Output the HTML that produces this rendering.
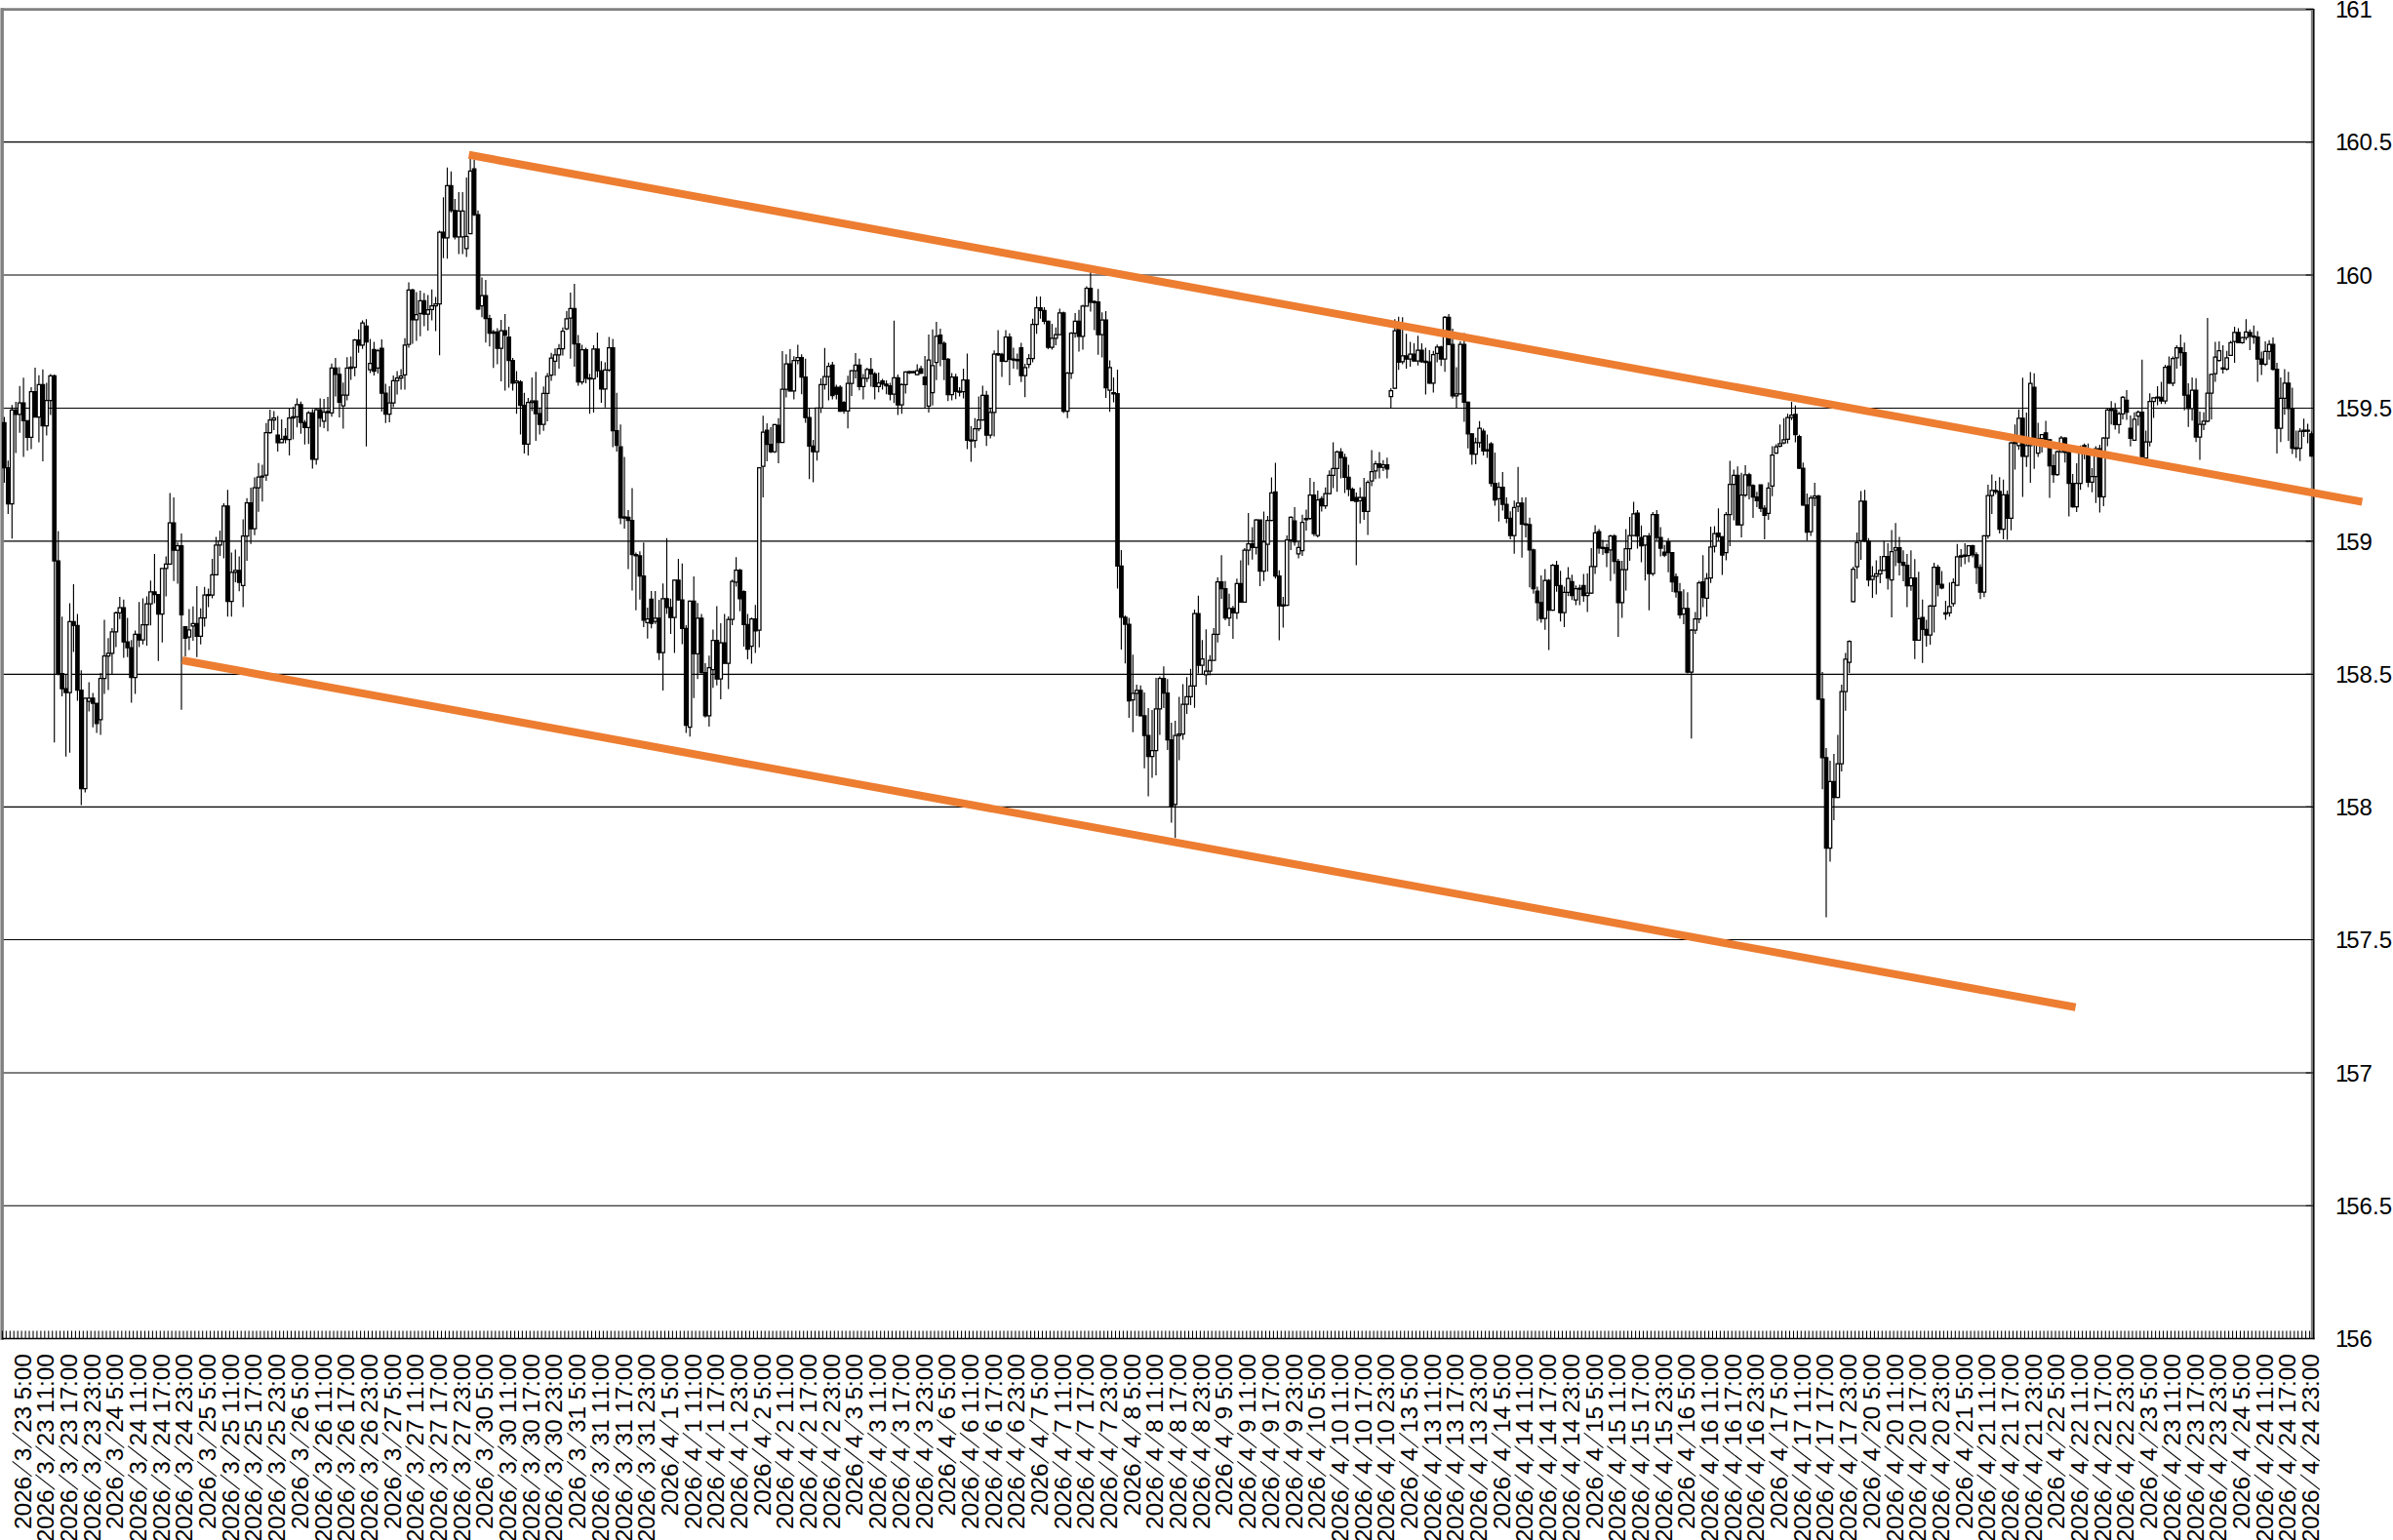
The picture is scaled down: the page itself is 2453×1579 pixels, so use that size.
<!DOCTYPE html><html><head><meta charset="utf-8"><title>chart</title><style>html,body{margin:0;padding:0;background:#fff}svg{display:block}text{font-family:"Liberation Sans",sans-serif;fill:#000}</style></head><body>
<svg width="2453" height="1579" viewBox="0 0 2453 1579">
<rect width="2453" height="1579" fill="#fff"/>
<path d="M2.4 145.60H2371M2.4 282.00H2371M2.4 418.45H2371M2.4 554.90H2371M2.4 691.40H2371M2.4 827.40H2371M2.4 963.45H2371M2.4 1100.00H2371M2.4 1236.25H2371" stroke="#000" stroke-width="1.15" fill="none"/>
<path d="M1 9.55H2370.2V1372" stroke="#808080" stroke-width="2.7" fill="none"/>
<path d="M2.15 8.2V1373.9" stroke="#808080" stroke-width="3.5" fill="none"/>
<path d="M4.4 427.5V495.1M8.3 472.3V526.9M12.3 415.2V552.2M16.2 411.9V464.5M20.2 395.7V443.8M24.1 387.3V468.4M28.1 431.4V461.9M32 397V460.6M36 376.9V427.5M39.9 384.7V453.5M43.9 378.8V473M47.8 392.5V446.4M51.8 383.4V425.6M55.7 384V761.3M59.7 544.5V692.6M63.6 632.2V714M67.6 691.3V775.7M71.5 618.6V771.8M75.4 599.1V668.6M79.4 629.6V718.6M83.3 687.3V825.6M87.3 715.8V812.6M91.2 699.6V729.5M95.2 710.6V745.7M99.1 721V751.6M103.1 689.9V753.5M107 635.5V711.4M111 654.3V707.5M114.9 643.9V691.9M118.9 627V663.4M122.8 612.1V634.8M126.8 614.7V674.4M130.7 633.5V673.8M134.7 656.2V720.5M138.6 646.5V711.4M142.6 617.3V663.4M146.5 613.4V660.8M150.5 611.4V662.1M154.4 595.2V641.3M158.4 567.9V618.6M162.3 609.5V677.7M166.3 582.9V658.8M170.2 570.5V611.4M174.2 505.6V578.3M178.1 510.1V595.8M182.1 556.2V598.4M186 547.1V727.7M190 642.6V673.1M193.9 624.4V666.6M197.9 621.8V656.9M201.8 601V673.8M205.7 623.8V660.8M209.7 601.7V642.6M213.6 603.6V622.5M217.6 573.1V613.4M221.5 550.4V589.4M225.5 543.9V569.9M229.4 516V572.5M233.4 502.3V632.2M237.3 566.6V632.2M241.3 563.4V597.1M245.2 570.5V606.2M249.2 532.5V622.5M253.1 510.8V575.1M257.1 500V557.8M261 489.6V548.7M265 474.7V524.7M268.9 476.6V514.3M272.9 433.8V492.9M276.8 420.1V444.8M280.8 421.4V440.9M284.7 426.6V463M288.7 429.9V453.9M292.6 439V454.5M296.6 418.8V466.9M300.5 416.9V450.6M304.5 408.4V438.3M308.4 411.7V444.8M312.4 430.5V455.8M316.3 421.4V455.2M320.3 419.5V480.5M324.2 418.8V476.6M328.2 408.4V437.7M332.1 409.1V439M336 407.1V442.2M340 372.7V427.3M343.9 366.9V406.5M347.9 376.6V427.9M351.8 392.2V439.6M355.8 366.2V410.4M359.7 365.6V389.6M363.7 347.4V385.7M367.6 337.7V361.7M371.6 328.6V357.8M375.5 327.3V457.8M379.5 347.4V382.5M383.4 350.6V385.1M387.4 357.8V383.1M391.3 348.1V422.1M395.3 393.5V433.8M399.2 396.1V433.1M403.2 385.1V417.5M407.1 380.5V404.5M411.1 378.6V399.4M415 346.8V399.4M419 289.6V356.5M422.9 296.1V352.6M426.9 299.4V349.4M430.8 298.1V344.8M434.8 300.6V334.4M438.7 302.6V339M442.7 296.8V328.6M446.6 304.5V339.6M450.6 236.6V364.3M454.5 202.3V264.7M458.5 171.7V265.2M462.4 175.8V217.9M466.3 203.9V245.5M470.3 197.1V260.5M474.2 197.1V260.5M478.2 182.1V263.6M482.1 162.3V239.7M486.1 163.9V221.6M490 215.8V317.7M494 284.4V325.3M497.9 287V351.3M501.9 322.7V355.2M505.8 338.3V377.3M509.8 336.4V373.4M513.7 327.9V390.9M517.7 322.1V400.6M521.6 335.1V397.4M525.6 366.9V400.6M529.5 380.6V424.2M533.5 389.7V445.6M537.4 402.7V465.1M541.4 407.9V467M545.3 387.1V421.6M549.3 381.3V452.1M553.2 417.7V445.6M557.2 396.2V441.7M561.1 382.6V431.9M565.1 361.8V390.4M569 357.3V385.2M573 352.7V378.1M576.9 335.8V364.4M580.9 319V338.4M584.8 300.1V367.7M588.8 291V376.1M592.7 343.6V395.6M596.6 353.4V394.3M600.6 356.6V393M604.5 383.2V424.2M608.5 354V422.9M612.4 341V387.1M616.4 370.3V413.1M620.3 371.6V417.7M624.3 345.6V381.3M628.2 347.5V458.6M632.2 402.7V463.1M636.1 435.2V537.4M640.1 468.6V541.9M644 523.1V583.5M648 500.4V605.6M651.9 566.6V625.7M655.9 565.3V614.7M659.8 556.2V643M663.8 622.9V654.7M667.7 606V644.3M671.7 606V639.7M675.6 615.1V676.8M679.6 598.2V707.9M683.5 551.7V629.4M687.5 613.8V650.1M691.4 594.3V669.6M695.4 573.1V615.7M699.3 577.7V660.5M703.3 641V751.4M707.2 615.7V755.3M711.2 591V715.7M715.1 618.3V696.2M719.1 629.4V690.4M723 680V735.8M726.9 672.2V744.9M730.9 645.6V705.3M734.8 621.6V702.7M738.8 639.1V717M742.7 629.4V680.6M746.7 631.9V706.6M750.6 594.3V641M754.6 571.2V601.4M758.5 583.2V626.8M762.5 605.3V663.1M766.4 629.4V676.1M770.4 633.2V680.6M774.3 620.3V669.6M778.3 479.4V663.8M782.2 426.2V510M786.2 434V473M790.1 437.9V464.5M794.1 434.7V464.5M798 428.8V474.9M802 360V453.5M805.9 363.2V407.4M809.9 358.1V401.6M813.8 365.2V409.4M817.8 353.5V373.6M821.7 363.2V404.2M825.7 367.8V433.4M829.6 419.1V491.2M833.6 450.9V494.4M837.5 418.4V472.3M841.5 387.9V423.6M845.4 356.8V399.6M849.4 371.7V410.6M853.3 371V409.4M857.3 394.4V409.4M861.2 395.1V422.3M865.1 411.3V424.3M869.1 385.3V439.2M873 379.5V406.1M877 361.9V387.9M880.9 367.8V400.3M884.9 383.4V409.4M888.8 376.9V391.8M892.8 367.1V396.4M896.7 381.4V409.4M900.7 382.1V402.2M904.6 388.6V399.6M908.6 389.9V404.2M912.5 392.5V410.6M916.5 328.8V413.2M920.4 384V425.6M924.4 393.1V424.3M928.3 380.8V403.5M932.3 380.1V383.4M936.2 380.1V382.7M940.2 373.6V384.7M944.1 374.9V383.4M948.1 365.1V418.3M952 343V422.9M956 337.8V415.7M959.9 330V389.7M963.9 337.1V375.5M967.8 350.1V389.7M971.8 367V411.2M975.7 382.6V410.5M979.7 383.2V409.2M983.6 396.9V406.6M987.6 378.1V408.6M991.5 362.5V460.5M995.4 437.1V473.5M999.4 428.7V459.2M1003.3 406.6V442.3M1007.3 395.6V431.3M1011.2 400.8V457.3M1015.2 418.3V449.5M1019.1 359.2V447.5M1023.1 338.4V365.1M1027 361.8V386.5M1031 338.4V371.6M1034.9 341.7V394.9M1038.9 356.6V378.1M1042.8 362.5V378.7M1046.8 351.4V391.7M1050.7 372.9V407.3M1054.7 363.1V377.4M1058.6 326.8V371.6M1062.6 304V342.3M1066.5 304V326.8M1070.5 315.1V332.6M1074.4 328.7V357.9M1078.4 331.9V358.6M1082.3 335.8V354M1086.3 316.4V343.6M1090.2 319.6V423.5M1094.2 381.3V428.7M1098.1 340.4V388.4M1102.1 320.9V346.2M1106 317.7V360.5M1110 312.5V358.6M1113.9 293.6V313.8M1117.9 278.7V319.6M1121.8 307.9V338.4M1125.7 296.2V363.8M1129.7 320.3V366.4M1133.6 319V407.9M1137.6 369.6V422.2M1141.5 387.1V412.5M1145.5 379V603.6M1149.4 564V666M1153.4 630.9V680.3M1157.3 633.5V736.1M1161.3 671.2V750.8M1165.2 702.1V733.9M1169.2 702.7V734.5M1173.1 709.9V787.8M1177.1 726.1V816.4M1181 728.1V797.5M1185 694.9V794.9M1188.9 693.6V753.4M1192.9 683.2V726.1M1196.8 696.2V769M1200.8 741V843.6M1204.7 739.1V859.2M1208.7 714.4V779.4M1212.6 701.4V758.6M1216.6 694.3V731.9M1220.5 685.8V722.9M1224.5 625.1V725.7M1228.4 610.8V690.6M1232.4 656.2V691.3M1236.3 645.2V702.3M1240.3 671.8V692.6M1244.2 643.9V677M1248.2 591.9V658.8M1252.1 569.2V614M1256 595.8V636.1M1260 608.8V641.9M1263.9 621.2V654.9M1267.9 593.2V634.8M1271.8 574.4V617.9M1275.8 562.1V617.9M1279.7 526.1V579.6M1283.7 540.6V573.8M1287.6 532.2V568.6M1291.6 532.9V601M1295.5 524.4V595.8M1299.5 529V586.1M1303.4 489.4V534.2M1307.4 474.4V593.2M1311.3 584.8V656.4M1315.3 612.1V643.4M1319.2 549.1V621.2M1323.2 529.6V564M1327.1 519.9V559.5M1331.1 554.9V572.5M1335 527.7V569.9M1339 522.5V543.9M1342.9 490V532.9M1346.9 493.9V549.7M1350.8 503V551M1354.8 508.8V524.4M1358.7 499.7V521.8M1362.7 482.2V506.9M1366.6 453.6V500.4M1370.6 462.1V504.3M1374.5 459.5V490.6M1378.5 465.3V505.6M1382.4 476.4V508.8M1386.3 499.7V514M1390.3 504.9V579.6M1394.2 499.7V536.8M1398.2 490V532.9M1402.1 492.6V548.4M1406.1 461.4V498.4M1410 472.5V491.3M1414 463.4V490.6M1417.9 471.8V482.9M1421.9 469.2V490.6M1425.8 398.1V418.2M1429.8 327.3V398.7M1433.7 324.7V379.2M1437.7 325.3V373.4M1441.6 342.2V377.9M1445.6 350.6V376M1449.5 351.9V370.8M1453.5 344.2V374.7M1457.4 351.9V372.1M1461.4 356.5V404.5M1465.3 359.1V393.5M1469.3 359.7V402.6M1473.2 353.2V371.4M1477.2 354.5V375.3M1481.1 324V381.2M1485.1 322.1V353.9M1489 337V408.4M1493 376.6V418.8M1496.9 350V404.5M1500.9 341.6V432.5M1504.8 411.7V459.7M1508.8 444.2V476.6M1512.7 448.7V476M1516.6 431.8V459.1M1520.6 439.6V466.9M1524.5 445.5V469.5M1528.5 453.2V499M1532.4 463.9V518.4M1536.4 494.4V534.7M1540.3 484V523.6M1544.3 510V536.6M1548.2 524.3V552.9M1552.2 513.2V567.8M1556.1 478.8V524.9M1560.1 510V571.7M1564 510V550.9M1568 530.8V602.2M1571.9 562.6V608.7M1575.9 601.6V636.6M1579.8 589.9V638.6M1583.8 583.4V645.7M1587.7 593.8V666.5M1591.7 578.2V626.2M1595.6 574.9V606.8M1599.6 585.3V637.3M1603.5 601.6V643.1M1607.5 581.4V611.3M1611.4 589.2V615.2M1615.4 600.3V620.4M1619.3 599.6V620.4M1623.3 588.6V617.1M1627.2 587.9V627.5M1631.2 561.9V608.7M1635.1 538.6V588.6M1639.1 542.5V567.8M1643 553.5V569.1M1647 557.4V581.4M1650.9 548.3V595.7M1654.8 547.7V588.6M1658.8 573V652.9M1662.7 574.9V633.4M1666.7 542.5V605.5M1670.6 530.1V574.9M1674.6 514.5V549.6M1678.5 523V562.6M1682.5 538.7V576.4M1686.4 549.1V595.2M1690.4 546.5V625.7M1694.3 525.1V590.6M1698.3 523.1V554.3M1702.2 540.6V570.5M1706.2 558.8V571.2M1710.1 551.7V586.8M1714.1 566V606.9M1718 588.1V612.7M1722 597.8V634.2M1725.9 604.3V640M1729.9 607.3V690.4M1733.8 644.9V757.3M1737.8 627.4V650.1M1741.7 595.6V639.1M1745.7 569.2V622.5M1749.6 587.4V632.2M1753.6 540V597.8M1757.5 539.4V566.6M1761.5 521.2V554.3M1765.4 549.7V589.4M1769.4 525.1V574.4M1773.3 472.5V560.1M1777.3 481.6V533.5M1781.2 478.3V538.7M1785.1 484.8V551M1789.1 477V509.5M1793 484.8V512.1M1797 496.5V530.9M1800.9 504.3V519.9M1804.9 497.1V525.1M1808.8 517.9V553M1812.8 494.5V532.9M1816.7 457.5V508.8M1820.7 455.5V465.2M1824.6 435.3V458.7M1828.6 428.8V455.5M1832.5 424.3V454.8M1836.5 411.9V430.8M1840.4 415.8V453.5M1844.4 445.7V480.8M1848.3 474.3V518.4M1852.3 506.1V554.2M1856.2 508.1V549.6M1860.2 495.1V519.1M1864.1 507.3V717.7M1868.1 689.1V809.2M1872 767V940.5M1876 780V883.6M1879.9 772.9V841M1883.9 753.4V818.3M1887.8 702.1V791M1891.8 669.4V728.7M1895.7 656.4V690.1M1899.7 581V617.4M1903.6 546V593.4M1907.6 503.5V573.9M1911.5 502.2V555.7M1915.4 551.8V601.2M1919.4 580.4V612.9M1923.3 574.5V609.6M1927.3 570V597.9M1931.2 554.4V584.9M1935.2 557V604.4M1939.1 543.4V633M1943.1 536.2V580.4M1947 550.5V590.1M1951 564.2V596M1954.9 568.1V622.6M1958.9 564.2V605.7M1962.8 573.2V675.8M1966.8 586.2V657M1970.7 614.8V679.7M1974.7 635.6V662.9M1978.6 620V660.9M1982.6 577.1V648.6M1986.5 579.1V611.6M1990.5 585.6V604.2M1994.4 616.1V635.6M1998.4 597.3V632.3M2002.3 592.9V622.1M2006.3 557.8V600.6M2010.2 563V581.2M2014.2 557.1V578.6M2018.1 559.1V576.6M2022.1 558.4V571.4M2026 566.2V598.7M2030 578.6V614.3M2033.9 548.7V612.3M2037.9 497V552.2M2041.8 486.6V526.9M2045.7 493.1V506.8M2049.7 489.2V547M2053.6 491.8V552.9M2057.6 502.9V553.5M2061.5 452.9V543.8M2065.5 435.3V481.4M2069.4 419.7V461.3M2073.4 387.3V509.4M2077.3 423V478.8M2081.3 381.4V495.1M2085.2 382.7V480.8M2089.2 433.4V468.4M2093.1 445.1V463.9M2097.1 431.4V451.6M2101 450.3V510.6M2105 465.8V495.1M2108.9 461.9V487.9M2112.9 447V464.5M2116.8 448.3V474.3M2120.8 463.2V529.5M2124.7 486V520.4M2128.7 474.9V524.9M2132.6 456.8V502.2M2136.6 454.8V471M2140.5 454.8V499.6M2144.5 480.1V504.8M2148.4 457.4V515.8M2152.4 456.1V525.6M2156.3 448.3V519.1M2160.3 418.4V457.4M2164.2 411.3V435.3M2168.2 413.2V440.5M2172.1 422.3V444.4M2176 406.1V430.1M2180 400V430.5M2183.9 426V457.8M2187.9 422.7V451.9M2191.8 420.8V436.4M2195.8 368.8V468.8M2199.7 441.6V470.1M2203.7 403.2V457.8M2207.6 407.1V428.6M2211.6 396.1V415.6M2215.5 391.6V414.3M2219.5 374V414.3M2223.4 365.6V393.5M2227.4 365.6V396.1M2231.3 353.9V377.9M2235.3 342.9V375.3M2239.2 351.3V420.8M2243.2 392.9V437.7M2247.1 387V431.2M2251.1 387.7V453.2M2255 422.1V471.4M2259 422.7V440.9M2262.9 326V433.1M2266.9 383.1V429.9M2270.8 350.6V391.6M2274.8 350V370.8M2278.7 353.9V383.1M2282.7 359.7V379.9M2286.6 349.4V364.9M2290.6 335.1V372.1M2294.5 336.4V351.9M2298.5 345.5V352.6M2302.4 327.3V348.7M2306.3 337.7V359.1M2310.3 333.8V352.6M2314.2 339.6V391.6M2318.2 360.4V384.4M2322.1 350V375.3M2326.1 348.7V368.8M2330 346.1V379.9M2334 372.1V464.9M2337.9 387V453.2M2341.9 378.6V425.3M2345.8 381.2V451.9M2349.8 397.4V465.6M2353.7 441.6V469.5M2357.7 439V472.7M2361.6 429.2V448.1M2365.6 434.4V454.5M2369.5 442.2V468.2" stroke="#000" stroke-width="1.15" fill="none"/>
<g stroke="#000" stroke-width="1.25">
<path fill="#000" d="M2.6 433.4H6.1V479.5H2.6ZM6.6 479.5H10V516.5H6.6Z"/>
<path fill="#fff" d="M10.5 420.4H14V516.5H10.5Z"/>
<path fill="#000" d="M14.5 420.4H17.9V424.9H14.5Z"/>
<path fill="#fff" d="M18.4 413.2H21.9V424.9H18.4Z"/>
<path fill="#000" d="M22.4 413.2H25.8V431.4H22.4ZM26.3 431.4H29.8V448.3H26.3Z"/>
<path fill="#fff" d="M30.3 401.6H33.7V448.3H30.3Z"/>
<path fill="#000" d="M34.2 401.6H37.7V427.5H34.2Z"/>
<path fill="#fff" d="M38.2 394.4H41.6V427.5H38.2Z"/>
<path fill="#000" d="M42.1 394.4H45.6V436.6H42.1Z"/>
<path fill="#fff" d="M46.1 410.6H49.5V436.6H46.1ZM50 385.3H53.5V410.6H50Z"/>
<path fill="#000" d="M54 385.3H57.4V575.1H54ZM57.9 575.1H61.4V690.6H57.9ZM61.9 690.6H65.3V706.2H61.9ZM65.8 706.2H69.3V710.1H65.8Z"/>
<path fill="#fff" d="M69.8 637.4H73.2V710.1H69.8Z"/>
<path fill="#000" d="M73.7 637.4H77.2V641.3H73.7ZM77.7 641.3H81.1V707.5H77.7ZM81.6 707.5H85.1V808.7H81.6Z"/>
<path fill="#fff" d="M85.6 715.8H89V808.7H85.6ZM89.5 715.8H93V719.1H89.5Z"/>
<path fill="#000" d="M93.5 715.8H96.9V721H93.5ZM97.4 721H100.9V741.8H97.4Z"/>
<path fill="#fff" d="M101.4 695.7H104.8V737.9H101.4ZM105.3 672.5H108.8V695.7H105.3ZM109.3 669.9H112.7V672.5H109.3ZM113.2 647.8H116.7V669.9H113.2ZM117.2 628.3H120.6V647.8H117.2ZM121.1 623.1H124.6V628.3H121.1Z"/>
<path fill="#000" d="M125.1 623.1H128.5V658.2H125.1ZM129 658.2H132.5V664H129ZM132.9 664H136.4V694.5H132.9Z"/>
<path fill="#fff" d="M136.9 650.4H140.3V694.5H136.9Z"/>
<path fill="#000" d="M140.8 650.4H144.3V656.2H140.8Z"/>
<path fill="#fff" d="M144.8 640.6H148.2V656.2H144.8ZM148.7 619.2H152.2V640.6H148.7ZM152.7 606.9H156.1V619.2H152.7Z"/>
<path fill="#000" d="M156.6 606.9H160.1V609.5H156.6ZM160.6 609.5H164V629.6H160.6Z"/>
<path fill="#fff" d="M164.5 582.9H168V629.6H164.5ZM168.5 578.3H171.9V582.9H168.5ZM172.4 536.1H175.9V578.3H172.4Z"/>
<path fill="#000" d="M176.4 536.1H179.8V564H176.4Z"/>
<path fill="#fff" d="M180.3 559.5H183.8V564H180.3Z"/>
<path fill="#000" d="M184.3 559.5H187.7V630.3H184.3ZM188.2 642.6H191.7V654.3H188.2Z"/>
<path fill="#fff" d="M192.2 645.8H195.6V653H192.2ZM196.1 639.4H199.6V641.9H196.1Z"/>
<path fill="#000" d="M200.1 639.4H203.5V652.3H200.1Z"/>
<path fill="#fff" d="M204 633.5H207.5V652.3H204ZM208 610.1H211.4V633.5H208ZM211.9 609.5H215.4V610.7H211.9ZM215.9 589.4H219.3V610.1H215.9ZM219.8 558.8H223.3V589.4H219.8ZM223.8 554.9H227.2V558.8H223.8ZM227.7 518.8H231.2V554.9H227.7Z"/>
<path fill="#000" d="M231.7 518.8H235.1V616.6H231.7Z"/>
<path fill="#fff" d="M235.6 586.8H239.1V616.6H235.6ZM239.6 584.8H243V586.8H239.6Z"/>
<path fill="#000" d="M243.5 584.8H247V597.1H243.5Z"/>
<path fill="#fff" d="M247.5 549.7H250.9V600.4H247.5ZM251.4 515.6H254.9V549.7H251.4Z"/>
<path fill="#000" d="M255.4 515.6H258.8V542.2H255.4Z"/>
<path fill="#fff" d="M259.3 500H262.8V542.2H259.3ZM263.3 489H266.7V500H263.3ZM267.2 488H270.6V489.2H267.2ZM271.1 443.5H274.6V487H271.1ZM275.1 430.5H278.5V443.5H275.1ZM279 428.6H282.5V430.5H279Z"/>
<path fill="#000" d="M283 446.1H286.4V453.9H283Z"/>
<path fill="#fff" d="M286.9 450.4H290.4V453.9H286.9Z"/>
<path fill="#000" d="M290.9 447.4H294.3V450.6H290.9Z"/>
<path fill="#fff" d="M294.8 428.6H298.3V450.6H294.8ZM298.8 427.3H302.2V428.6H298.8ZM302.7 414.9H306.2V427.3H302.7Z"/>
<path fill="#000" d="M306.7 414.9H310.1V433.1H306.7ZM310.6 433.1H314.1V438.3H310.6Z"/>
<path fill="#fff" d="M314.6 423.4H318V438.3H314.6Z"/>
<path fill="#000" d="M318.5 423.4H322V470.8H318.5Z"/>
<path fill="#fff" d="M322.5 420.1H325.9V470.8H322.5Z"/>
<path fill="#000" d="M326.4 420.1H329.9V428.6H326.4Z"/>
<path fill="#fff" d="M330.4 422.7H333.8V431.8H330.4ZM334.3 421.9H337.8V423.1H334.3ZM338.3 377.3H341.7V423.4H338.3Z"/>
<path fill="#000" d="M342.2 377.3H345.7V383.8H342.2ZM346.2 383.8H349.6V412.3H346.2Z"/>
<path fill="#fff" d="M350.1 405.2H353.6V416.2H350.1ZM354.1 377.3H357.5V405.2H354.1ZM358 376.3H361.5V377.5H358ZM362 348.7H365.4V376.6H362Z"/>
<path fill="#000" d="M365.9 348.7H369.4V353.9H365.9Z"/>
<path fill="#fff" d="M369.9 331.2H373.3V353.9H369.9Z"/>
<path fill="#000" d="M373.8 334.4H377.3V350.6H373.8Z"/>
<path fill="#fff" d="M377.8 372.7H381.2V379.2H377.8Z"/>
<path fill="#000" d="M381.7 358.4H385.2V380.5H381.7Z"/>
<path fill="#fff" d="M385.7 359.7H389.1V377.3H385.7Z"/>
<path fill="#000" d="M389.6 357.1H393.1V403.2H389.6ZM393.6 403.2H397V424.7H393.6Z"/>
<path fill="#fff" d="M397.5 413H400.9V424.7H397.5ZM401.4 390.3H404.9V413H401.4ZM405.4 387.7H408.8V390.3H405.4ZM409.3 385.7H412.8V387.7H409.3ZM413.3 353.9H416.7V384.4H413.3ZM417.2 297.4H420.7V353.2H417.2Z"/>
<path fill="#000" d="M421.2 297.4H424.6V327.9H421.2Z"/>
<path fill="#fff" d="M425.1 322.7H428.6V327.9H425.1ZM429.1 308.4H432.5V321.4H429.1Z"/>
<path fill="#000" d="M433 308.4H436.5V322.1H433Z"/>
<path fill="#fff" d="M437 317.5H440.4V322.1H437ZM440.9 313.6H444.4V317.3H440.9ZM444.9 311.7H448.3V313.6H444.9ZM448.8 238.2H452.3V311.6H448.8Z"/>
<path fill="#000" d="M452.8 238.2H456.2V243.9H452.8Z"/>
<path fill="#fff" d="M456.7 190.4H460.2V243.9H456.7Z"/>
<path fill="#000" d="M460.7 190.4H464.1V215.8H460.7ZM464.6 215.8H468.1V242.9H464.6Z"/>
<path fill="#fff" d="M468.6 216.4H472V242.9H468.6ZM472.5 216.4H476V242.9H472.5ZM476.5 242.3H479.9V254.8H476.5ZM480.4 175.3H483.9V239.7H480.4Z"/>
<path fill="#000" d="M484.4 173.2H487.8V220H484.4ZM488.3 220H491.8V316.8H488.3Z"/>
<path fill="#fff" d="M492.3 303.2H495.7V313.6H492.3Z"/>
<path fill="#000" d="M496.2 303.2H499.7V326.6H496.2ZM500.2 326.6H503.6V341.6H500.2Z"/>
<path fill="#fff" d="M504.1 340.3H507.6V341.6H504.1Z"/>
<path fill="#000" d="M508.1 340.3H511.5V357.1H508.1Z"/>
<path fill="#fff" d="M512 339H515.5V357.1H512Z"/>
<path fill="#000" d="M516 339H519.4V343.5H516ZM519.9 345.5H523.4V369.5H519.9ZM523.9 369.5H527.3V392.9H523.9Z"/>
<path fill="#fff" d="M527.8 390.6H531.2V392.3H527.8Z"/>
<path fill="#000" d="M531.7 391.7H535.2V415.7H531.7ZM535.7 415.7H539.1V455.3H535.7Z"/>
<path fill="#fff" d="M539.6 412.5H543.1V455.3H539.6ZM543.6 411.2H547V412.5H543.6Z"/>
<path fill="#000" d="M547.5 411.2H551V424.2H547.5ZM551.5 424.2H554.9V435.2H551.5Z"/>
<path fill="#fff" d="M555.4 403.4H558.9V435.2H555.4ZM559.4 385.8H562.8V403.4H559.4ZM563.3 367H566.8V384.5H563.3ZM567.3 363.8H570.7V370.3H567.3ZM571.2 357.5H574.7V363.8H571.2ZM575.2 339.7H578.6V357.5H575.2ZM579.1 326.8H582.6V337.1H579.1ZM583.1 316.4H586.5V326.1H583.1Z"/>
<path fill="#000" d="M587 316.4H590.5V352.7H587ZM591 352.7H594.4V391.7H591Z"/>
<path fill="#fff" d="M594.9 358.6H598.4V391.7H594.9Z"/>
<path fill="#000" d="M598.9 358.6H602.3V387.8H598.9ZM602.8 387.5H606.3V388.7H602.8Z"/>
<path fill="#fff" d="M606.8 357.9H610.2V388.4H606.8Z"/>
<path fill="#000" d="M610.7 357.9H614.2V380H610.7ZM614.7 380H618.1V398.8H614.7Z"/>
<path fill="#fff" d="M618.6 379.4H622.1V398.8H618.6ZM622.6 356.6H626V379.4H622.6Z"/>
<path fill="#000" d="M626.5 356.6H630V441.7H626.5ZM630.5 441.7H633.9V456.6H630.5ZM634.4 458.2H637.9V530.9H634.4Z"/>
<path fill="#fff" d="M638.4 530H641.8V531.2H638.4Z"/>
<path fill="#000" d="M642.3 530.3H645.8V533.5H642.3ZM646.3 533.5H649.7V568.6H646.3ZM650.2 568.6H653.7V569.9H650.2ZM654.2 569.9H657.6V590.6H654.2ZM658.1 590.6H661.6V635.8H658.1Z"/>
<path fill="#fff" d="M662 634.5H665.5V638.4H662Z"/>
<path fill="#000" d="M666 614.4H669.4V639.1H666Z"/>
<path fill="#fff" d="M669.9 633.9H673.4V637.1H669.9Z"/>
<path fill="#000" d="M673.9 633.9H677.3V669H673.9Z"/>
<path fill="#fff" d="M677.8 613.8H681.3V669H677.8Z"/>
<path fill="#000" d="M681.8 613.8H685.2V622.9H681.8ZM685.7 622.9H689.2V633.2H685.7Z"/>
<path fill="#fff" d="M689.7 594.9H693.1V633.2H689.7Z"/>
<path fill="#000" d="M693.6 594.9H697.1V615.1H693.6ZM697.6 615.1H701V644.3H697.6ZM701.5 644.3H705V743.6H701.5Z"/>
<path fill="#fff" d="M705.5 616.4H708.9V745.6H705.5Z"/>
<path fill="#000" d="M709.4 616.4H712.9V670.3H709.4Z"/>
<path fill="#fff" d="M713.4 633.9H716.8V670.3H713.4Z"/>
<path fill="#000" d="M717.3 633.9H720.8V689.7H717.3ZM721.3 689.7H724.7V733.9H721.3Z"/>
<path fill="#fff" d="M725.2 684.5H728.7V733.9H725.2ZM729.2 656.6H732.6V686.5H729.2Z"/>
<path fill="#000" d="M733.1 656.6H736.6V696.2H733.1Z"/>
<path fill="#fff" d="M737.1 659.2H740.5V696.2H737.1Z"/>
<path fill="#000" d="M741 659.2H744.5V680H741Z"/>
<path fill="#fff" d="M745 635.2H748.4V680H745ZM748.9 596.2H752.4V635.2H748.9ZM752.9 584.5H756.3V596.9H752.9Z"/>
<path fill="#000" d="M756.8 584.5H760.3V613.8H756.8ZM760.8 606.6H764.2V640.4H760.8ZM764.7 640.4H768.2V665.7H764.7Z"/>
<path fill="#fff" d="M768.7 634.5H772.1V662.5H768.7Z"/>
<path fill="#000" d="M772.6 634.5H776.1V646.9H772.6Z"/>
<path fill="#fff" d="M776.6 479.6H780V646.2H776.6ZM780.5 443.1H784V478.2H780.5Z"/>
<path fill="#000" d="M784.5 441.2H787.9V455.5H784.5ZM788.4 455.5H791.9V463.2H788.4Z"/>
<path fill="#fff" d="M792.3 435.3H795.8V463.2H792.3Z"/>
<path fill="#000" d="M796.3 436H799.7V453.5H796.3Z"/>
<path fill="#fff" d="M800.2 399H803.7V453.5H800.2ZM804.2 373H807.6V399H804.2Z"/>
<path fill="#000" d="M808.1 373H811.6V400.9H808.1Z"/>
<path fill="#fff" d="M812.1 369.7H815.5V400.9H812.1ZM816 366.5H819.5V369.7H816Z"/>
<path fill="#000" d="M820 366.5H823.4V386.6H820ZM823.9 386.6H827.4V428.2H823.9ZM827.9 428.2H831.3V457.4H827.9ZM831.8 457.4H835.3V463.2H831.8Z"/>
<path fill="#fff" d="M835.8 418.4H839.2V463.2H835.8ZM839.7 394.4H843.2V418.4H839.7ZM843.7 386H847.1V394.4H843.7ZM847.6 375.6H851.1V386H847.6Z"/>
<path fill="#000" d="M851.6 374.3H855V405.5H851.6ZM855.5 397H859V404.2H855.5ZM859.5 397H862.9V421.7H859.5ZM863.4 412.6H866.9V421.4H863.4Z"/>
<path fill="#fff" d="M867.4 393.1H870.8V421.4H867.4ZM871.3 380.1H874.8V393.1H871.3ZM875.3 374.3H878.7V380.1H875.3Z"/>
<path fill="#000" d="M879.2 374.3H882.7V396.4H879.2Z"/>
<path fill="#fff" d="M883.2 387.9H886.6V396.4H883.2ZM887.1 378.8H890.6V387.9H887.1Z"/>
<path fill="#000" d="M891.1 378.8H894.5V383.4H891.1ZM895 383.4H898.5V396.4H895Z"/>
<path fill="#fff" d="M899 392.5H902.4V396.4H899Z"/>
<path fill="#000" d="M902.9 390.5H906.4V393.8H902.9ZM906.9 393.8H910.3V395.7H906.9ZM910.8 395.7H914.3V404.2H910.8Z"/>
<path fill="#fff" d="M914.8 387.3H918.2V404.2H914.8Z"/>
<path fill="#000" d="M918.7 387.3H922.2V415.2H918.7Z"/>
<path fill="#fff" d="M922.6 394.4H926.1V415.2H922.6ZM926.6 381.4H930V394.4H926.6Z"/>
<path fill="#000" d="M930.5 381H934V382.2H930.5Z"/>
<path fill="#fff" d="M934.5 381H937.9V382.2H934.5ZM938.4 380.1H941.9V384H938.4Z"/>
<path fill="#000" d="M942.4 378.2H945.8V382.7H942.4ZM946.3 386.5H949.8V394.3H946.3Z"/>
<path fill="#fff" d="M950.3 369H953.7V416.4H950.3ZM954.2 374.8H957.7V402.7H954.2ZM958.2 344.9H961.6V371.6H958.2Z"/>
<path fill="#000" d="M962.1 343.6H965.6V352.1H962.1ZM966.1 352.1H969.5V368.3H966.1ZM970 368.3H973.5V404.7H970Z"/>
<path fill="#fff" d="M974 386.5H977.4V404.7H974Z"/>
<path fill="#000" d="M977.9 386.5H981.4V401.4H977.9ZM981.9 401H985.3V402.2H981.9Z"/>
<path fill="#fff" d="M985.8 389.7H989.3V401.7H985.8Z"/>
<path fill="#000" d="M989.8 389.7H993.2V451.4H989.8ZM993.7 451H997.2V452.2H993.7Z"/>
<path fill="#fff" d="M997.7 439.7H1001.1V451.7H997.7ZM1001.6 430.6H1005.1V439.7H1001.6ZM1005.6 405.3H1009V430.6H1005.6Z"/>
<path fill="#000" d="M1009.5 405.3H1013V446.2H1009.5Z"/>
<path fill="#fff" d="M1013.5 422.9H1016.9V446.2H1013.5ZM1017.4 363.1H1020.9V422.9H1017.4Z"/>
<path fill="#000" d="M1021.4 362.6H1024.8V363.8H1021.4ZM1025.3 363.4H1028.8V370.3H1025.3Z"/>
<path fill="#fff" d="M1029.3 345.6H1032.7V370.3H1029.3Z"/>
<path fill="#000" d="M1033.2 345.6H1036.7V368.3H1033.2ZM1037.2 368H1040.6V369.2H1037.2ZM1041.1 368.7H1044.6V369.9H1041.1ZM1045.1 356.6H1048.5V385.2H1045.1Z"/>
<path fill="#fff" d="M1049 376.8H1052.5V385.2H1049ZM1053 367.7H1056.4V373.5H1053ZM1056.9 332.6H1060.3V367.7H1056.9ZM1060.8 315.7H1064.3V332.6H1060.8Z"/>
<path fill="#000" d="M1064.8 315.7H1068.2V318.3H1064.8ZM1068.7 318.3H1072.2V329.4H1068.7ZM1072.7 329.4H1076.1V356H1072.7Z"/>
<path fill="#fff" d="M1076.6 346.9H1080.1V356H1076.6ZM1080.6 343H1084V346.9H1080.6ZM1084.5 320.9H1088V343H1084.5Z"/>
<path fill="#000" d="M1088.5 320.9H1091.9V421.6H1088.5Z"/>
<path fill="#fff" d="M1092.4 382.6H1095.9V421.6H1092.4ZM1096.4 341.7H1099.8V382.6H1096.4ZM1100.3 329.4H1103.8V341.7H1100.3Z"/>
<path fill="#000" d="M1104.3 329.4H1107.7V344.9H1104.3Z"/>
<path fill="#fff" d="M1108.2 313.8H1111.7V344.9H1108.2ZM1112.2 295.6H1115.6V313.8H1112.2Z"/>
<path fill="#000" d="M1116.1 295.6H1119.6V309.9H1116.1Z"/>
<path fill="#fff" d="M1120.1 309.1H1123.5V310.3H1120.1Z"/>
<path fill="#000" d="M1124 309.6H1127.5V343H1124Z"/>
<path fill="#fff" d="M1128 328.1H1131.4V343H1128Z"/>
<path fill="#000" d="M1131.9 328.1H1135.4V397.5H1131.9Z"/>
<path fill="#fff" d="M1135.9 376.8H1139.3V400.1H1135.9Z"/>
<path fill="#000" d="M1139.8 402.6H1143.3V403.8H1139.8ZM1143.8 403.6H1147.2V580.3H1143.8ZM1147.7 580.3H1151.2V632.9H1147.7ZM1151.7 632.9H1155.1V640H1151.7ZM1155.6 640H1159.1V718.6H1155.6Z"/>
<path fill="#fff" d="M1159.6 710.8H1163V717.7H1159.6ZM1163.5 707.9H1167V710.8H1163.5Z"/>
<path fill="#000" d="M1167.5 707.9H1170.9V733.9H1167.5ZM1171.4 733.9H1174.9V754H1171.4ZM1175.4 754H1178.8V775.5H1175.4Z"/>
<path fill="#fff" d="M1179.3 769.6H1182.8V775.5H1179.3ZM1183.3 726.8H1186.7V769.6H1183.3ZM1187.2 695.6H1190.6V726.8H1187.2Z"/>
<path fill="#000" d="M1191.1 695.6H1194.6V710.5H1191.1ZM1195.1 710.5H1198.5V758.6H1195.1ZM1199 758.6H1202.5V826.8H1199Z"/>
<path fill="#fff" d="M1203 754H1206.4V824.8H1203ZM1206.9 752.7H1210.4V754H1206.9ZM1210.9 722.2H1214.3V752.7H1210.9ZM1214.8 714.4H1218.3V722.2H1214.8ZM1218.8 703.4H1222.2V714.4H1218.8ZM1222.7 629H1226.2V703.4H1222.7Z"/>
<path fill="#000" d="M1226.7 629H1230.1V682.2H1226.7Z"/>
<path fill="#fff" d="M1230.6 675.7H1234.1V682.2H1230.6ZM1234.6 688.1H1238V691.9H1234.6ZM1238.5 677H1242V688.1H1238.5ZM1242.5 650.4H1245.9V677H1242.5ZM1246.4 596.5H1249.9V650.4H1246.4Z"/>
<path fill="#000" d="M1250.4 596.5H1253.8V603.6H1250.4ZM1254.3 603.6H1257.8V633.5H1254.3Z"/>
<path fill="#fff" d="M1258.3 623.8H1261.7V633.5H1258.3Z"/>
<path fill="#000" d="M1262.2 623.8H1265.7V628.3H1262.2Z"/>
<path fill="#fff" d="M1266.2 598.4H1269.6V628.3H1266.2Z"/>
<path fill="#000" d="M1270.1 598.4H1273.6V617.3H1270.1Z"/>
<path fill="#fff" d="M1274.1 564H1277.5V617.3H1274.1ZM1278 557.5H1281.5V564H1278Z"/>
<path fill="#000" d="M1282 557.5H1285.4V561.4H1282Z"/>
<path fill="#fff" d="M1285.9 533.2H1289.4V561.4H1285.9Z"/>
<path fill="#000" d="M1289.9 533.2H1293.3V585.5H1289.9Z"/>
<path fill="#fff" d="M1293.8 555.6H1297.3V585.5H1293.8ZM1297.8 533.5H1301.2V558.2H1297.8ZM1301.7 505.3H1305.2V533.5H1301.7Z"/>
<path fill="#000" d="M1305.7 504.3H1309.1V590.6H1305.7ZM1309.6 590.6H1313.1V621.2H1309.6Z"/>
<path fill="#fff" d="M1313.6 620.2H1317V621.4H1313.6ZM1317.5 553.6H1320.9V620.5H1317.5ZM1321.4 530.3H1324.9V553.6H1321.4Z"/>
<path fill="#000" d="M1325.4 534.2H1328.8V555.6H1325.4Z"/>
<path fill="#fff" d="M1329.3 561.4H1332.8V567.9H1329.3ZM1333.3 535.5H1336.7V564.7H1333.3ZM1337.2 531.6H1340.7V532.9H1337.2ZM1341.2 507.5H1344.6V531.6H1341.2Z"/>
<path fill="#000" d="M1345.1 507.5H1348.6V547.1H1345.1Z"/>
<path fill="#fff" d="M1349.1 512.7H1352.5V549.1H1349.1Z"/>
<path fill="#000" d="M1353 511.4H1356.5V518.6H1353Z"/>
<path fill="#fff" d="M1357 506.2H1360.4V518.6H1357ZM1360.9 487.4H1364.4V506.2H1360.9ZM1364.9 480.3H1368.3V487.4H1364.9ZM1368.8 463.4H1372.3V480.3H1368.8Z"/>
<path fill="#000" d="M1372.8 463.4H1376.2V469.2H1372.8ZM1376.7 469.2H1380.2V489.4H1376.7ZM1380.7 489.4H1384.1V501.7H1380.7ZM1384.6 501.7H1388.1V513.4H1384.6ZM1388.6 510.1H1392V514H1388.6Z"/>
<path fill="#fff" d="M1392.5 510.1H1396V513.4H1392.5Z"/>
<path fill="#000" d="M1396.5 510.1H1399.9V524.4H1396.5Z"/>
<path fill="#fff" d="M1400.4 494.5H1403.9V524.4H1400.4ZM1404.4 483.5H1407.8V493.2H1404.4ZM1408.3 475.7H1411.8V482.9H1408.3Z"/>
<path fill="#000" d="M1412.3 475.7H1415.7V479H1412.3Z"/>
<path fill="#fff" d="M1416.2 476.6H1419.7V479H1416.2Z"/>
<path fill="#000" d="M1420.2 476.6H1423.6V480.9H1420.2Z"/>
<path fill="#fff" d="M1424.1 400.6H1427.6V406.5H1424.1ZM1428.1 339H1431.5V398.1H1428.1Z"/>
<path fill="#000" d="M1432 335.7H1435.5V371.4H1432Z"/>
<path fill="#fff" d="M1436 364.9H1439.4V370.8H1436Z"/>
<path fill="#000" d="M1439.9 364.9H1443.4V368.2H1439.9Z"/>
<path fill="#fff" d="M1443.9 363H1447.3V368.2H1443.9Z"/>
<path fill="#000" d="M1447.8 363H1451.3V370.1H1447.8Z"/>
<path fill="#fff" d="M1451.7 359.1H1455.2V370.1H1451.7Z"/>
<path fill="#000" d="M1455.7 359.1H1459.1V370.8H1455.7ZM1459.6 370.4H1463.1V371.6H1459.6ZM1463.6 371.2H1467V392.9H1463.6Z"/>
<path fill="#fff" d="M1467.5 363.6H1471V392.9H1467.5ZM1471.5 355.8H1474.9V362.3H1471.5Z"/>
<path fill="#000" d="M1475.4 355.8H1478.9V368.2H1475.4Z"/>
<path fill="#fff" d="M1479.4 325.3H1482.8V368.2H1479.4Z"/>
<path fill="#000" d="M1483.3 325.3H1486.8V353.2H1483.3ZM1487.3 353.2H1490.7V405.8H1487.3Z"/>
<path fill="#fff" d="M1491.2 403.9H1494.7V405.8H1491.2ZM1495.2 353.2H1498.6V403.9H1495.2Z"/>
<path fill="#000" d="M1499.1 353.2H1502.6V412.3H1499.1ZM1503.1 412.3H1506.5V444.8H1503.1ZM1507 444.8H1510.5V465.6H1507Z"/>
<path fill="#fff" d="M1511 453.9H1514.4V465.6H1511ZM1514.9 439H1518.4V453.9H1514.9Z"/>
<path fill="#000" d="M1518.9 442.2H1522.3V462.3H1518.9Z"/>
<path fill="#fff" d="M1522.8 461H1526.3V462.3H1522.8Z"/>
<path fill="#000" d="M1526.8 455.2H1530.2V495.7H1526.8ZM1530.7 495.7H1534.2V512.6H1530.7Z"/>
<path fill="#fff" d="M1534.7 499.6H1538.1V511.3H1534.7Z"/>
<path fill="#000" d="M1538.6 499.6H1542.1V517.1H1538.6ZM1542.6 517.1H1546V531.4H1542.6ZM1546.5 531.4H1550V549H1546.5Z"/>
<path fill="#fff" d="M1550.5 520.4H1553.9V549H1550.5ZM1554.4 515.8H1557.9V519.1H1554.4Z"/>
<path fill="#000" d="M1558.4 515.8H1561.8V537.3H1558.4ZM1562.3 537H1565.8V538.2H1562.3ZM1566.3 537.9H1569.7V563.9H1566.3ZM1570.2 563.9H1573.7V603.5H1570.2ZM1574.2 606.1H1577.6V617.8H1574.2ZM1578.1 617.8H1581.6V634H1578.1Z"/>
<path fill="#fff" d="M1582 595.1H1585.5V634H1582Z"/>
<path fill="#000" d="M1586 595.1H1589.4V625.6H1586Z"/>
<path fill="#fff" d="M1589.9 579.5H1593.4V625.6H1589.9Z"/>
<path fill="#000" d="M1593.9 579.5H1597.3V600.3H1593.9ZM1597.8 600.3H1601.3V628.2H1597.8Z"/>
<path fill="#fff" d="M1601.8 607.4H1605.2V628.2H1601.8ZM1605.7 593.1H1609.2V607.4H1605.7Z"/>
<path fill="#000" d="M1609.7 596.4H1613.1V610.6H1609.7Z"/>
<path fill="#fff" d="M1613.6 603.5H1617.1V615.2H1613.6Z"/>
<path fill="#000" d="M1617.6 603H1621V604.2H1617.6ZM1621.5 600.3H1625V610.6H1621.5Z"/>
<path fill="#fff" d="M1625.5 608.1H1628.9V610.6H1625.5ZM1629.4 580.8H1632.9V608.1H1629.4ZM1633.4 546.4H1636.8V580.8H1633.4Z"/>
<path fill="#000" d="M1637.3 545.1H1640.8V561.9H1637.3Z"/>
<path fill="#fff" d="M1641.3 561.2H1644.7V562.4H1641.3Z"/>
<path fill="#000" d="M1645.2 561.7H1648.7V566.5H1645.2Z"/>
<path fill="#fff" d="M1649.2 549.6H1652.6V563.9H1649.2Z"/>
<path fill="#000" d="M1653.1 549.6H1656.6V575.6H1653.1ZM1657.1 575.6H1660.5V617.8H1657.1Z"/>
<path fill="#fff" d="M1661 584H1664.5V617.8H1661ZM1665 562.6H1668.4V584H1665ZM1668.9 549H1672.4V562.6H1668.9ZM1672.9 526.9H1676.3V549H1672.9Z"/>
<path fill="#000" d="M1676.8 526.2H1680.3V549.6H1676.8ZM1680.8 551H1684.2V559.5H1680.8Z"/>
<path fill="#fff" d="M1684.7 549.7H1688.2V558.8H1684.7Z"/>
<path fill="#000" d="M1688.7 549.7H1692.1V588.1H1688.7Z"/>
<path fill="#fff" d="M1692.6 527.7H1696.1V588.1H1692.6Z"/>
<path fill="#000" d="M1696.6 527.7H1700V551H1696.6ZM1700.5 551H1704V562.1H1700.5ZM1704.5 566H1707.9V569.2H1704.5ZM1708.4 555.6H1711.9V566.6H1708.4ZM1712.3 566.6H1715.8V596.5H1712.3ZM1716.3 591.3H1719.7V606.9H1716.3ZM1720.2 606.9H1723.7V630.3H1720.2Z"/>
<path fill="#fff" d="M1724.2 623.8H1727.6V629.6H1724.2Z"/>
<path fill="#000" d="M1728.1 623.8H1731.6V689.1H1728.1Z"/>
<path fill="#fff" d="M1732.1 646.2H1735.5V689.1H1732.1ZM1736 634.5H1739.5V646.2H1736ZM1740 597.5H1743.4V634.5H1740Z"/>
<path fill="#000" d="M1743.9 596.5H1747.4V612.7H1743.9Z"/>
<path fill="#fff" d="M1747.9 593.2H1751.3V613.4H1747.9ZM1751.8 560.8H1755.3V592.6H1751.8ZM1755.8 547.1H1759.2V560.1H1755.8Z"/>
<path fill="#000" d="M1759.7 546.5H1763.2V550.4H1759.7ZM1763.7 550.4H1767.1V569.2H1763.7Z"/>
<path fill="#fff" d="M1767.6 527.7H1771.1V566.6H1767.6ZM1771.6 496.5H1775V527.7H1771.6ZM1775.5 487.4H1779V496.5H1775.5Z"/>
<path fill="#000" d="M1779.5 487.4H1782.9V538.1H1779.5Z"/>
<path fill="#fff" d="M1783.4 507.5H1786.9V538.1H1783.4ZM1787.4 486.8H1790.8V507.5H1787.4Z"/>
<path fill="#000" d="M1791.3 486.8H1794.8V497.8H1791.3ZM1795.3 497.8H1798.7V509.5H1795.3ZM1799.2 509.5H1802.7V513.4H1799.2ZM1803.2 497.1H1806.6V521.2H1803.2ZM1807.1 521.2H1810.6V528.3H1807.1Z"/>
<path fill="#fff" d="M1811.1 500.4H1814.5V526.4H1811.1ZM1815 466.6H1818.5V498.4H1815ZM1819 458.1H1822.4V464.5H1819ZM1822.9 454.8H1826.4V457.4H1822.9ZM1826.9 450.9H1830.3V454.2H1826.9ZM1830.8 428.2H1834.3V450.3H1830.8ZM1834.8 425.6H1838.2V428.2H1834.8Z"/>
<path fill="#000" d="M1838.7 424.9H1842.2V445.7H1838.7ZM1842.7 447.7H1846.1V480.1H1842.7ZM1846.6 480.1H1850V517.8H1846.6ZM1850.5 517.8H1854V545.7H1850.5Z"/>
<path fill="#fff" d="M1854.5 510.6H1857.9V545.1H1854.5ZM1858.4 508.7H1861.9V510.6H1858.4Z"/>
<path fill="#000" d="M1862.4 508.7H1865.8V716.8H1862.4ZM1866.3 716.8H1869.8V776.8H1866.3ZM1870.3 776.8H1873.7V869.6H1870.3Z"/>
<path fill="#fff" d="M1874.2 801.4H1877.7V869.6H1874.2Z"/>
<path fill="#000" d="M1878.2 801.4H1881.6V817.7H1878.2Z"/>
<path fill="#fff" d="M1882.1 783.2H1885.6V817.7H1882.1ZM1886.1 709.2H1889.5V783.2H1886.1ZM1890 675.8H1893.5V709.2H1890ZM1894 657.7H1897.4V679.1H1894ZM1897.9 583.6H1901.4V616.8H1897.9ZM1901.9 556.4H1905.3V581H1901.9ZM1905.8 513.9H1909.3V554.4H1905.8Z"/>
<path fill="#000" d="M1909.8 513.9H1913.2V554.8H1909.8ZM1913.7 554.8H1917.2V594.7H1913.7Z"/>
<path fill="#fff" d="M1917.7 590.8H1921.1V594H1917.7ZM1921.6 588.4H1925.1V590.8H1921.6ZM1925.6 584.9H1929V588.4H1925.6ZM1929.5 570.6H1933V584.9H1929.5Z"/>
<path fill="#000" d="M1933.5 570.6H1936.9V592.7H1933.5Z"/>
<path fill="#fff" d="M1937.4 565.5H1940.9V594.7H1937.4ZM1941.4 561.6H1944.8V564.2H1941.4Z"/>
<path fill="#000" d="M1945.3 561.6H1948.8V576.5H1945.3ZM1949.3 576.5H1952.7V579.7H1949.3ZM1953.2 579.7H1956.7V600.5H1953.2Z"/>
<path fill="#fff" d="M1957.2 592.7H1960.6V600.5H1957.2Z"/>
<path fill="#000" d="M1961.1 592.7H1964.6V656.4H1961.1Z"/>
<path fill="#fff" d="M1965.1 634.3H1968.5V656.4H1965.1Z"/>
<path fill="#000" d="M1969 633H1972.5V645.3H1969ZM1973 645.3H1976.4V651.2H1973Z"/>
<path fill="#fff" d="M1976.9 621.3H1980.3V651.2H1976.9ZM1980.8 581.7H1984.3V621.3H1980.8Z"/>
<path fill="#000" d="M1984.8 581.7H1988.2V599.2H1984.8ZM1988.7 599.2H1992.2V602.9H1988.7ZM1992.7 628.3H1996.1V629.5H1992.7Z"/>
<path fill="#fff" d="M1996.6 621.9H2000.1V628.4H1996.6ZM2000.6 597.4H2004V618.8H2000.6ZM2004.5 570.8H2008V600H2004.5ZM2008.5 569.9H2011.9V571.1H2008.5ZM2012.4 569.2H2015.9V570.4H2012.4ZM2016.4 559.7H2019.8V569.5H2016.4Z"/>
<path fill="#000" d="M2020.3 559.7H2023.8V568.8H2020.3ZM2024.3 568.8H2027.7V581.8H2024.3ZM2028.2 581.8H2031.7V607.1H2028.2Z"/>
<path fill="#fff" d="M2032.2 549.4H2035.6V607.1H2032.2ZM2036.1 508.1H2039.6V549.4H2036.1ZM2040.1 502.9H2043.5V508.1H2040.1Z"/>
<path fill="#000" d="M2044 502.8H2047.5V504H2044ZM2048 503.9H2051.4V542.5H2048Z"/>
<path fill="#fff" d="M2051.9 507.4H2055.4V542.5H2051.9Z"/>
<path fill="#000" d="M2055.9 507.4H2059.3V531.4H2055.9Z"/>
<path fill="#fff" d="M2059.8 454.2H2063.3V531.4H2059.8ZM2063.8 453.4H2067.2V454.6H2063.8ZM2067.7 428.8H2071.2V456.8H2067.7Z"/>
<path fill="#000" d="M2071.7 428.8H2075.1V467.8H2071.7Z"/>
<path fill="#fff" d="M2075.6 456.8H2079.1V467.8H2075.6ZM2079.6 393.1H2083V456.8H2079.6Z"/>
<path fill="#000" d="M2083.5 397H2087V449.6H2083.5Z"/>
<path fill="#fff" d="M2087.5 449.6H2090.9V464.5H2087.5ZM2091.4 445.7H2094.9V449.6H2091.4Z"/>
<path fill="#000" d="M2095.4 443.8H2098.8V450.9H2095.4ZM2099.3 450.9H2102.8V477.5H2099.3ZM2103.3 477.5H2106.7V486.6H2103.3Z"/>
<path fill="#fff" d="M2107.2 463.2H2110.6V486.6H2107.2ZM2111.1 449H2114.6V463.2H2111.1Z"/>
<path fill="#000" d="M2115.1 449H2118.5V463.9H2115.1ZM2119 463.9H2122.5V495.7H2119ZM2123 495.7H2126.4V519.7H2123Z"/>
<path fill="#fff" d="M2126.9 495.7H2130.4V519.7H2126.9ZM2130.9 463.9H2134.3V495.7H2130.9Z"/>
<path fill="#000" d="M2134.8 456.8H2138.3V458.1H2134.8ZM2138.8 466.5H2142.2V494.4H2138.8Z"/>
<path fill="#fff" d="M2142.7 488.6H2146.2V494.4H2142.7ZM2146.7 460H2150.1V488.6H2146.7Z"/>
<path fill="#000" d="M2150.6 460H2154.1V509.4H2150.6Z"/>
<path fill="#fff" d="M2154.6 449H2158V509.4H2154.6ZM2158.5 420.4H2162V449H2158.5ZM2162.5 419.6H2165.9V420.8H2162.5Z"/>
<path fill="#000" d="M2166.4 420H2169.9V435.3H2166.4Z"/>
<path fill="#fff" d="M2170.4 424.3H2173.8V435.3H2170.4ZM2174.3 407.4H2177.8V424.3H2174.3Z"/>
<path fill="#000" d="M2178.3 410.4H2181.7V422.7H2178.3ZM2182.2 439H2185.7V449.4H2182.2Z"/>
<path fill="#fff" d="M2186.2 429.9H2189.6V451.3H2186.2ZM2190.1 422.7H2193.6V426.6H2190.1Z"/>
<path fill="#000" d="M2194.1 422.7H2197.5V468.2H2194.1Z"/>
<path fill="#fff" d="M2198 453.2H2201.5V469.5H2198ZM2202 411.7H2205.4V453.2H2202ZM2205.9 407.8H2209.4V411.7H2205.9ZM2209.9 407H2213.3V408.2H2209.9Z"/>
<path fill="#000" d="M2213.8 407.4H2217.3V411H2213.8Z"/>
<path fill="#fff" d="M2217.8 376.6H2221.2V411H2217.8Z"/>
<path fill="#000" d="M2221.7 375.3H2225.2V392.9H2221.7Z"/>
<path fill="#fff" d="M2225.7 367.5H2229.1V392.9H2225.7ZM2229.6 356.5H2233.1V366.9H2229.6Z"/>
<path fill="#000" d="M2233.6 356.5H2237V361.7H2233.6ZM2237.5 361.7H2241V405.2H2237.5ZM2241.4 405.2H2244.9V418.8H2241.4Z"/>
<path fill="#fff" d="M2245.4 400H2248.8V418.8H2245.4Z"/>
<path fill="#000" d="M2249.3 400H2252.8V448.1H2249.3Z"/>
<path fill="#fff" d="M2253.3 435.1H2256.7V448.1H2253.3ZM2257.2 431.8H2260.7V435.1H2257.2ZM2261.2 403.2H2264.6V431.8H2261.2ZM2265.1 383.8H2268.6V403.2H2265.1ZM2269.1 366.2H2272.5V383.1H2269.1ZM2273 359.7H2276.5V369.5H2273Z"/>
<path fill="#000" d="M2277 377.2H2280.4V378.4H2277Z"/>
<path fill="#fff" d="M2280.9 366.9H2284.4V378.3H2280.9ZM2284.9 351.3H2288.3V364.3H2284.9ZM2288.8 340.9H2292.3V350H2288.8Z"/>
<path fill="#000" d="M2292.8 340.9H2296.2V351.3H2292.8Z"/>
<path fill="#fff" d="M2296.7 346.1H2300.2V351.3H2296.7ZM2300.7 340.3H2304.1V346.1H2300.7Z"/>
<path fill="#000" d="M2304.6 340.9H2308.1V344.8H2304.6ZM2308.6 344.5H2312V345.7H2308.6ZM2312.5 345.5H2316V368.2H2312.5ZM2316.5 368.2H2319.9V373.4H2316.5Z"/>
<path fill="#fff" d="M2320.4 360.4H2323.9V373.4H2320.4ZM2324.4 353.2H2327.8V360.4H2324.4Z"/>
<path fill="#000" d="M2328.3 353.2H2331.8V378.6H2328.3ZM2332.3 378.6H2335.7V439H2332.3Z"/>
<path fill="#fff" d="M2336.2 408.4H2339.7V439H2336.2ZM2340.2 392.9H2343.6V408.4H2340.2Z"/>
<path fill="#000" d="M2344.1 392.9H2347.6V418.8H2344.1ZM2348.1 418.8H2351.5V459.7H2348.1Z"/>
<path fill="#fff" d="M2352 459H2355.5V460.2H2352ZM2356 442.2H2359.4V459.5H2356ZM2359.9 441.2H2363.4V442.4H2359.9Z"/>
<path fill="#000" d="M2363.9 441H2367.3V442.2H2363.9ZM2367.8 444.8H2371.3V467.5H2367.8Z"/>
</g>
<path d="M2363.6 9.50H2371.8M2363.6 145.60H2371.8M2363.6 282.00H2371.8M2363.6 418.45H2371.8M2363.6 554.90H2371.8M2363.6 691.40H2371.8M2363.6 827.40H2371.8M2363.6 963.45H2371.8M2363.6 1100.00H2371.8M2363.6 1236.25H2371.8M2363.6 1372.50H2371.8" stroke="#000" stroke-width="1.15" fill="none"/>
<path d="M2371.8 9V1373.3" stroke="#000" stroke-width="1.5" fill="none"/>
<path d="M2.4 1364.5V1372.5M6.3 1364.5V1372.5M10.3 1364.5V1372.5M14.2 1364.5V1372.5M18.2 1364.5V1372.5M22.1 1364.5V1372.5M26.1 1364.5V1372.5M30 1364.5V1372.5M34 1364.5V1372.5M37.9 1364.5V1372.5M41.9 1364.5V1372.5M45.8 1364.5V1372.5M49.8 1364.5V1372.5M53.7 1364.5V1372.5M57.7 1364.5V1372.5M61.6 1364.5V1372.5M65.6 1364.5V1372.5M69.5 1364.5V1372.5M73.5 1364.5V1372.5M77.4 1364.5V1372.5M81.4 1364.5V1372.5M85.3 1364.5V1372.5M89.3 1364.5V1372.5M93.2 1364.5V1372.5M97.2 1364.5V1372.5M101.1 1364.5V1372.5M105.1 1364.5V1372.5M109 1364.5V1372.5M113 1364.5V1372.5M116.9 1364.5V1372.5M120.9 1364.5V1372.5M124.8 1364.5V1372.5M128.8 1364.5V1372.5M132.7 1364.5V1372.5M136.6 1364.5V1372.5M140.6 1364.5V1372.5M144.5 1364.5V1372.5M148.5 1364.5V1372.5M152.4 1364.5V1372.5M156.4 1364.5V1372.5M160.3 1364.5V1372.5M164.3 1364.5V1372.5M168.2 1364.5V1372.5M172.2 1364.5V1372.5M176.1 1364.5V1372.5M180.1 1364.5V1372.5M184 1364.5V1372.5M188 1364.5V1372.5M191.9 1364.5V1372.5M195.9 1364.5V1372.5M199.8 1364.5V1372.5M203.8 1364.5V1372.5M207.7 1364.5V1372.5M211.7 1364.5V1372.5M215.6 1364.5V1372.5M219.6 1364.5V1372.5M223.5 1364.5V1372.5M227.5 1364.5V1372.5M231.4 1364.5V1372.5M235.4 1364.5V1372.5M239.3 1364.5V1372.5M243.3 1364.5V1372.5M247.2 1364.5V1372.5M251.2 1364.5V1372.5M255.1 1364.5V1372.5M259.1 1364.5V1372.5M263 1364.5V1372.5M266.9 1364.5V1372.5M270.9 1364.5V1372.5M274.8 1364.5V1372.5M278.8 1364.5V1372.5M282.7 1364.5V1372.5M286.7 1364.5V1372.5M290.6 1364.5V1372.5M294.6 1364.5V1372.5M298.5 1364.5V1372.5M302.5 1364.5V1372.5M306.4 1364.5V1372.5M310.4 1364.5V1372.5M314.3 1364.5V1372.5M318.3 1364.5V1372.5M322.2 1364.5V1372.5M326.2 1364.5V1372.5M330.1 1364.5V1372.5M334.1 1364.5V1372.5M338 1364.5V1372.5M342 1364.5V1372.5M345.9 1364.5V1372.5M349.9 1364.5V1372.5M353.8 1364.5V1372.5M357.8 1364.5V1372.5M361.7 1364.5V1372.5M365.7 1364.5V1372.5M369.6 1364.5V1372.5M373.6 1364.5V1372.5M377.5 1364.5V1372.5M381.5 1364.5V1372.5M385.4 1364.5V1372.5M389.4 1364.5V1372.5M393.3 1364.5V1372.5M397.2 1364.5V1372.5M401.2 1364.5V1372.5M405.1 1364.5V1372.5M409.1 1364.5V1372.5M413 1364.5V1372.5M417 1364.5V1372.5M420.9 1364.5V1372.5M424.9 1364.5V1372.5M428.8 1364.5V1372.5M432.8 1364.5V1372.5M436.7 1364.5V1372.5M440.7 1364.5V1372.5M444.6 1364.5V1372.5M448.6 1364.5V1372.5M452.5 1364.5V1372.5M456.5 1364.5V1372.5M460.4 1364.5V1372.5M464.4 1364.5V1372.5M468.3 1364.5V1372.5M472.3 1364.5V1372.5M476.2 1364.5V1372.5M480.2 1364.5V1372.5M484.1 1364.5V1372.5M488.1 1364.5V1372.5M492 1364.5V1372.5M496 1364.5V1372.5M499.9 1364.5V1372.5M503.9 1364.5V1372.5M507.8 1364.5V1372.5M511.8 1364.5V1372.5M515.7 1364.5V1372.5M519.7 1364.5V1372.5M523.6 1364.5V1372.5M527.6 1364.5V1372.5M531.5 1364.5V1372.5M535.4 1364.5V1372.5M539.4 1364.5V1372.5M543.3 1364.5V1372.5M547.3 1364.5V1372.5M551.2 1364.5V1372.5M555.2 1364.5V1372.5M559.1 1364.5V1372.5M563.1 1364.5V1372.5M567 1364.5V1372.5M571 1364.5V1372.5M574.9 1364.5V1372.5M578.9 1364.5V1372.5M582.8 1364.5V1372.5M586.8 1364.5V1372.5M590.7 1364.5V1372.5M594.7 1364.5V1372.5M598.6 1364.5V1372.5M602.6 1364.5V1372.5M606.5 1364.5V1372.5M610.5 1364.5V1372.5M614.4 1364.5V1372.5M618.4 1364.5V1372.5M622.3 1364.5V1372.5M626.3 1364.5V1372.5M630.2 1364.5V1372.5M634.2 1364.5V1372.5M638.1 1364.5V1372.5M642.1 1364.5V1372.5M646 1364.5V1372.5M650 1364.5V1372.5M653.9 1364.5V1372.5M657.9 1364.5V1372.5M661.8 1364.5V1372.5M665.7 1364.5V1372.5M669.7 1364.5V1372.5M673.6 1364.5V1372.5M677.6 1364.5V1372.5M681.5 1364.5V1372.5M685.5 1364.5V1372.5M689.4 1364.5V1372.5M693.4 1364.5V1372.5M697.3 1364.5V1372.5M701.3 1364.5V1372.5M705.2 1364.5V1372.5M709.2 1364.5V1372.5M713.1 1364.5V1372.5M717.1 1364.5V1372.5M721 1364.5V1372.5M725 1364.5V1372.5M728.9 1364.5V1372.5M732.9 1364.5V1372.5M736.8 1364.5V1372.5M740.8 1364.5V1372.5M744.7 1364.5V1372.5M748.7 1364.5V1372.5M752.6 1364.5V1372.5M756.6 1364.5V1372.5M760.5 1364.5V1372.5M764.5 1364.5V1372.5M768.4 1364.5V1372.5M772.4 1364.5V1372.5M776.3 1364.5V1372.5M780.3 1364.5V1372.5M784.2 1364.5V1372.5M788.2 1364.5V1372.5M792.1 1364.5V1372.5M796 1364.5V1372.5M800 1364.5V1372.5M803.9 1364.5V1372.5M807.9 1364.5V1372.5M811.8 1364.5V1372.5M815.8 1364.5V1372.5M819.7 1364.5V1372.5M823.7 1364.5V1372.5M827.6 1364.5V1372.5M831.6 1364.5V1372.5M835.5 1364.5V1372.5M839.5 1364.5V1372.5M843.4 1364.5V1372.5M847.4 1364.5V1372.5M851.3 1364.5V1372.5M855.3 1364.5V1372.5M859.2 1364.5V1372.5M863.2 1364.5V1372.5M867.1 1364.5V1372.5M871.1 1364.5V1372.5M875 1364.5V1372.5M879 1364.5V1372.5M882.9 1364.5V1372.5M886.9 1364.5V1372.5M890.8 1364.5V1372.5M894.8 1364.5V1372.5M898.7 1364.5V1372.5M902.7 1364.5V1372.5M906.6 1364.5V1372.5M910.6 1364.5V1372.5M914.5 1364.5V1372.5M918.5 1364.5V1372.5M922.4 1364.5V1372.5M926.3 1364.5V1372.5M930.3 1364.5V1372.5M934.2 1364.5V1372.5M938.2 1364.5V1372.5M942.1 1364.5V1372.5M946.1 1364.5V1372.5M950 1364.5V1372.5M954 1364.5V1372.5M957.9 1364.5V1372.5M961.9 1364.5V1372.5M965.8 1364.5V1372.5M969.8 1364.5V1372.5M973.7 1364.5V1372.5M977.7 1364.5V1372.5M981.6 1364.5V1372.5M985.6 1364.5V1372.5M989.5 1364.5V1372.5M993.5 1364.5V1372.5M997.4 1364.5V1372.5M1001.4 1364.5V1372.5M1005.3 1364.5V1372.5M1009.3 1364.5V1372.5M1013.2 1364.5V1372.5M1017.2 1364.5V1372.5M1021.1 1364.5V1372.5M1025.1 1364.5V1372.5M1029 1364.5V1372.5M1033 1364.5V1372.5M1036.9 1364.5V1372.5M1040.9 1364.5V1372.5M1044.8 1364.5V1372.5M1048.8 1364.5V1372.5M1052.7 1364.5V1372.5M1056.6 1364.5V1372.5M1060.6 1364.5V1372.5M1064.5 1364.5V1372.5M1068.5 1364.5V1372.5M1072.4 1364.5V1372.5M1076.4 1364.5V1372.5M1080.3 1364.5V1372.5M1084.3 1364.5V1372.5M1088.2 1364.5V1372.5M1092.2 1364.5V1372.5M1096.1 1364.5V1372.5M1100.1 1364.5V1372.5M1104 1364.5V1372.5M1108 1364.5V1372.5M1111.9 1364.5V1372.5M1115.9 1364.5V1372.5M1119.8 1364.5V1372.5M1123.8 1364.5V1372.5M1127.7 1364.5V1372.5M1131.7 1364.5V1372.5M1135.6 1364.5V1372.5M1139.6 1364.5V1372.5M1143.5 1364.5V1372.5M1147.5 1364.5V1372.5M1151.4 1364.5V1372.5M1155.4 1364.5V1372.5M1159.3 1364.5V1372.5M1163.3 1364.5V1372.5M1167.2 1364.5V1372.5M1171.2 1364.5V1372.5M1175.1 1364.5V1372.5M1179.1 1364.5V1372.5M1183 1364.5V1372.5M1187 1364.5V1372.5M1190.9 1364.5V1372.5M1194.8 1364.5V1372.5M1198.8 1364.5V1372.5M1202.7 1364.5V1372.5M1206.7 1364.5V1372.5M1210.6 1364.5V1372.5M1214.6 1364.5V1372.5M1218.5 1364.5V1372.5M1222.5 1364.5V1372.5M1226.4 1364.5V1372.5M1230.4 1364.5V1372.5M1234.3 1364.5V1372.5M1238.3 1364.5V1372.5M1242.2 1364.5V1372.5M1246.2 1364.5V1372.5M1250.1 1364.5V1372.5M1254.1 1364.5V1372.5M1258 1364.5V1372.5M1262 1364.5V1372.5M1265.9 1364.5V1372.5M1269.9 1364.5V1372.5M1273.8 1364.5V1372.5M1277.8 1364.5V1372.5M1281.7 1364.5V1372.5M1285.7 1364.5V1372.5M1289.6 1364.5V1372.5M1293.6 1364.5V1372.5M1297.5 1364.5V1372.5M1301.5 1364.5V1372.5M1305.4 1364.5V1372.5M1309.4 1364.5V1372.5M1313.3 1364.5V1372.5M1317.3 1364.5V1372.5M1321.2 1364.5V1372.5M1325.1 1364.5V1372.5M1329.1 1364.5V1372.5M1333 1364.5V1372.5M1337 1364.5V1372.5M1340.9 1364.5V1372.5M1344.9 1364.5V1372.5M1348.8 1364.5V1372.5M1352.8 1364.5V1372.5M1356.7 1364.5V1372.5M1360.7 1364.5V1372.5M1364.6 1364.5V1372.5M1368.6 1364.5V1372.5M1372.5 1364.5V1372.5M1376.5 1364.5V1372.5M1380.4 1364.5V1372.5M1384.4 1364.5V1372.5M1388.3 1364.5V1372.5M1392.3 1364.5V1372.5M1396.2 1364.5V1372.5M1400.2 1364.5V1372.5M1404.1 1364.5V1372.5M1408.1 1364.5V1372.5M1412 1364.5V1372.5M1416 1364.5V1372.5M1419.9 1364.5V1372.5M1423.9 1364.5V1372.5M1427.8 1364.5V1372.5M1431.8 1364.5V1372.5M1435.7 1364.5V1372.5M1439.7 1364.5V1372.5M1443.6 1364.5V1372.5M1447.6 1364.5V1372.5M1451.5 1364.5V1372.5M1455.4 1364.5V1372.5M1459.4 1364.5V1372.5M1463.3 1364.5V1372.5M1467.3 1364.5V1372.5M1471.2 1364.5V1372.5M1475.2 1364.5V1372.5M1479.1 1364.5V1372.5M1483.1 1364.5V1372.5M1487 1364.5V1372.5M1491 1364.5V1372.5M1494.9 1364.5V1372.5M1498.9 1364.5V1372.5M1502.8 1364.5V1372.5M1506.8 1364.5V1372.5M1510.7 1364.5V1372.5M1514.7 1364.5V1372.5M1518.6 1364.5V1372.5M1522.6 1364.5V1372.5M1526.5 1364.5V1372.5M1530.5 1364.5V1372.5M1534.4 1364.5V1372.5M1538.4 1364.5V1372.5M1542.3 1364.5V1372.5M1546.3 1364.5V1372.5M1550.2 1364.5V1372.5M1554.2 1364.5V1372.5M1558.1 1364.5V1372.5M1562.1 1364.5V1372.5M1566 1364.5V1372.5M1570 1364.5V1372.5M1573.9 1364.5V1372.5M1577.9 1364.5V1372.5M1581.8 1364.5V1372.5M1585.7 1364.5V1372.5M1589.7 1364.5V1372.5M1593.6 1364.5V1372.5M1597.6 1364.5V1372.5M1601.5 1364.5V1372.5M1605.5 1364.5V1372.5M1609.4 1364.5V1372.5M1613.4 1364.5V1372.5M1617.3 1364.5V1372.5M1621.3 1364.5V1372.5M1625.2 1364.5V1372.5M1629.2 1364.5V1372.5M1633.1 1364.5V1372.5M1637.1 1364.5V1372.5M1641 1364.5V1372.5M1645 1364.5V1372.5M1648.9 1364.5V1372.5M1652.9 1364.5V1372.5M1656.8 1364.5V1372.5M1660.8 1364.5V1372.5M1664.7 1364.5V1372.5M1668.7 1364.5V1372.5M1672.6 1364.5V1372.5M1676.6 1364.5V1372.5M1680.5 1364.5V1372.5M1684.5 1364.5V1372.5M1688.4 1364.5V1372.5M1692.4 1364.5V1372.5M1696.3 1364.5V1372.5M1700.3 1364.5V1372.5M1704.2 1364.5V1372.5M1708.2 1364.5V1372.5M1712.1 1364.5V1372.5M1716 1364.5V1372.5M1720 1364.5V1372.5M1723.9 1364.5V1372.5M1727.9 1364.5V1372.5M1731.8 1364.5V1372.5M1735.8 1364.5V1372.5M1739.7 1364.5V1372.5M1743.7 1364.5V1372.5M1747.6 1364.5V1372.5M1751.6 1364.5V1372.5M1755.5 1364.5V1372.5M1759.5 1364.5V1372.5M1763.4 1364.5V1372.5M1767.4 1364.5V1372.5M1771.3 1364.5V1372.5M1775.3 1364.5V1372.5M1779.2 1364.5V1372.5M1783.2 1364.5V1372.5M1787.1 1364.5V1372.5M1791.1 1364.5V1372.5M1795 1364.5V1372.5M1799 1364.5V1372.5M1802.9 1364.5V1372.5M1806.9 1364.5V1372.5M1810.8 1364.5V1372.5M1814.8 1364.5V1372.5M1818.7 1364.5V1372.5M1822.7 1364.5V1372.5M1826.6 1364.5V1372.5M1830.6 1364.5V1372.5M1834.5 1364.5V1372.5M1838.5 1364.5V1372.5M1842.4 1364.5V1372.5M1846.3 1364.5V1372.5M1850.3 1364.5V1372.5M1854.2 1364.5V1372.5M1858.2 1364.5V1372.5M1862.1 1364.5V1372.5M1866.1 1364.5V1372.5M1870 1364.5V1372.5M1874 1364.5V1372.5M1877.9 1364.5V1372.5M1881.9 1364.5V1372.5M1885.8 1364.5V1372.5M1889.8 1364.5V1372.5M1893.7 1364.5V1372.5M1897.7 1364.5V1372.5M1901.6 1364.5V1372.5M1905.6 1364.5V1372.5M1909.5 1364.5V1372.5M1913.5 1364.5V1372.5M1917.4 1364.5V1372.5M1921.4 1364.5V1372.5M1925.3 1364.5V1372.5M1929.3 1364.5V1372.5M1933.2 1364.5V1372.5M1937.2 1364.5V1372.5M1941.1 1364.5V1372.5M1945.1 1364.5V1372.5M1949 1364.5V1372.5M1953 1364.5V1372.5M1956.9 1364.5V1372.5M1960.9 1364.5V1372.5M1964.8 1364.5V1372.5M1968.8 1364.5V1372.5M1972.7 1364.5V1372.5M1976.7 1364.5V1372.5M1980.6 1364.5V1372.5M1984.5 1364.5V1372.5M1988.5 1364.5V1372.5M1992.4 1364.5V1372.5M1996.4 1364.5V1372.5M2000.3 1364.5V1372.5M2004.3 1364.5V1372.5M2008.2 1364.5V1372.5M2012.2 1364.5V1372.5M2016.1 1364.5V1372.5M2020.1 1364.5V1372.5M2024 1364.5V1372.5M2028 1364.5V1372.5M2031.9 1364.5V1372.5M2035.9 1364.5V1372.5M2039.8 1364.5V1372.5M2043.8 1364.5V1372.5M2047.7 1364.5V1372.5M2051.7 1364.5V1372.5M2055.6 1364.5V1372.5M2059.6 1364.5V1372.5M2063.5 1364.5V1372.5M2067.5 1364.5V1372.5M2071.4 1364.5V1372.5M2075.4 1364.5V1372.5M2079.3 1364.5V1372.5M2083.3 1364.5V1372.5M2087.2 1364.5V1372.5M2091.2 1364.5V1372.5M2095.1 1364.5V1372.5M2099.1 1364.5V1372.5M2103 1364.5V1372.5M2107 1364.5V1372.5M2110.9 1364.5V1372.5M2114.8 1364.5V1372.5M2118.8 1364.5V1372.5M2122.7 1364.5V1372.5M2126.7 1364.5V1372.5M2130.6 1364.5V1372.5M2134.6 1364.5V1372.5M2138.5 1364.5V1372.5M2142.5 1364.5V1372.5M2146.4 1364.5V1372.5M2150.4 1364.5V1372.5M2154.3 1364.5V1372.5M2158.3 1364.5V1372.5M2162.2 1364.5V1372.5M2166.2 1364.5V1372.5M2170.1 1364.5V1372.5M2174.1 1364.5V1372.5M2178 1364.5V1372.5M2182 1364.5V1372.5M2185.9 1364.5V1372.5M2189.9 1364.5V1372.5M2193.8 1364.5V1372.5M2197.8 1364.5V1372.5M2201.7 1364.5V1372.5M2205.7 1364.5V1372.5M2209.6 1364.5V1372.5M2213.6 1364.5V1372.5M2217.5 1364.5V1372.5M2221.5 1364.5V1372.5M2225.4 1364.5V1372.5M2229.4 1364.5V1372.5M2233.3 1364.5V1372.5M2237.3 1364.5V1372.5M2241.2 1364.5V1372.5M2245.1 1364.5V1372.5M2249.1 1364.5V1372.5M2253 1364.5V1372.5M2257 1364.5V1372.5M2260.9 1364.5V1372.5M2264.9 1364.5V1372.5M2268.8 1364.5V1372.5M2272.8 1364.5V1372.5M2276.7 1364.5V1372.5M2280.7 1364.5V1372.5M2284.6 1364.5V1372.5M2288.6 1364.5V1372.5M2292.5 1364.5V1372.5M2296.5 1364.5V1372.5M2300.4 1364.5V1372.5M2304.4 1364.5V1372.5M2308.3 1364.5V1372.5M2312.3 1364.5V1372.5M2316.2 1364.5V1372.5M2320.2 1364.5V1372.5M2324.1 1364.5V1372.5M2328.1 1364.5V1372.5M2332 1364.5V1372.5M2336 1364.5V1372.5M2339.9 1364.5V1372.5M2343.9 1364.5V1372.5M2347.8 1364.5V1372.5M2351.8 1364.5V1372.5M2355.7 1364.5V1372.5M2359.7 1364.5V1372.5M2363.6 1364.5V1372.5M2367.6 1364.5V1372.5M2371.5 1364.5V1372.5" stroke="#000" stroke-width="1.05" fill="none"/>
<path d="M1.9 1372.5H2372.5" stroke="#000" stroke-width="1.6" fill="none"/>
<path d="M480.6 158.8L2421.4 514.5M186.8 677L2127.6 1032.8" stroke="#ED7D31" stroke-width="8" fill="none"/>
<text x="2393.9" y="18.3" font-size="24">1<tspan dx="-2">6</tspan>1</text>
<text x="2393.9" y="154.4" font-size="24">1<tspan dx="-2">6</tspan>0.5</text>
<text x="2393.9" y="290.8" font-size="24">1<tspan dx="-2">6</tspan>0</text>
<text x="2393.9" y="427.2" font-size="24">1<tspan dx="-2">5</tspan>9.5</text>
<text x="2393.9" y="563.7" font-size="24">1<tspan dx="-2">5</tspan>9</text>
<text x="2393.9" y="700.2" font-size="24">1<tspan dx="-2">5</tspan>8.5</text>
<text x="2393.9" y="836.2" font-size="24">1<tspan dx="-2">5</tspan>8</text>
<text x="2393.9" y="972.2" font-size="24">1<tspan dx="-2">5</tspan>7.5</text>
<text x="2393.9" y="1108.8" font-size="24">1<tspan dx="-2">5</tspan>7</text>
<text x="2393.9" y="1245" font-size="24">1<tspan dx="-2">5</tspan>6.5</text>
<text x="2393.9" y="1381.3" font-size="24">1<tspan dx="-2">5</tspan>6</text>
<g transform="translate(31.5 1388.3) rotate(-90)"><text font-size="24.5" x="-179.6 -166.1 -152.7 -139.2 -125.7 -110 -96.5 -80.7 -67.3 -53.8 -46.9 -33.6 -27 -13.5" y="0" xml:space="preserve">2026 3 23 5:00</text>
<path d="M-125.5 1L-110.1 -18.8M-96.3 1L-80.9 -18.8" stroke="#000" stroke-width="1.05" fill="none"/></g>
<g transform="translate(55.2 1388.3) rotate(-90)"><text font-size="24.5" x="-193 -179.6 -166.1 -152.7 -139.2 -123.4 -109.9 -94.2 -80.7 -67.2 -60.4 -46.9 -33.6 -27 -13.5" y="0" xml:space="preserve">2026 3 23 11:00</text>
<path d="M-139 1L-123.6 -18.8M-109.7 1L-94.3 -18.8" stroke="#000" stroke-width="1.05" fill="none"/></g>
<g transform="translate(78.9 1388.3) rotate(-90)"><text font-size="24.5" x="-193 -179.6 -166.1 -152.7 -139.2 -123.4 -109.9 -94.2 -80.7 -67.2 -60.4 -46.9 -33.6 -27 -13.5" y="0" xml:space="preserve">2026 3 23 17:00</text>
<path d="M-139 1L-123.6 -18.8M-109.7 1L-94.3 -18.8" stroke="#000" stroke-width="1.05" fill="none"/></g>
<g transform="translate(102.6 1388.3) rotate(-90)"><text font-size="24.5" x="-193 -179.6 -166.1 -152.7 -139.2 -123.4 -109.9 -94.2 -80.7 -67.2 -60.4 -46.9 -33.6 -27 -13.5" y="0" xml:space="preserve">2026 3 23 23:00</text>
<path d="M-139 1L-123.6 -18.8M-109.7 1L-94.3 -18.8" stroke="#000" stroke-width="1.05" fill="none"/></g>
<g transform="translate(126.3 1388.3) rotate(-90)"><text font-size="24.5" x="-179.6 -166.1 -152.7 -139.2 -125.7 -110 -96.5 -80.7 -67.3 -53.8 -46.9 -33.6 -27 -13.5" y="0" xml:space="preserve">2026 3 24 5:00</text>
<path d="M-125.5 1L-110.1 -18.8M-96.3 1L-80.9 -18.8" stroke="#000" stroke-width="1.05" fill="none"/></g>
<g transform="translate(150 1388.3) rotate(-90)"><text font-size="24.5" x="-193 -179.6 -166.1 -152.7 -139.2 -123.4 -109.9 -94.2 -80.7 -67.2 -60.4 -46.9 -33.6 -27 -13.5" y="0" xml:space="preserve">2026 3 24 11:00</text>
<path d="M-139 1L-123.6 -18.8M-109.7 1L-94.3 -18.8" stroke="#000" stroke-width="1.05" fill="none"/></g>
<g transform="translate(173.7 1388.3) rotate(-90)"><text font-size="24.5" x="-193 -179.6 -166.1 -152.7 -139.2 -123.4 -109.9 -94.2 -80.7 -67.2 -60.4 -46.9 -33.6 -27 -13.5" y="0" xml:space="preserve">2026 3 24 17:00</text>
<path d="M-139 1L-123.6 -18.8M-109.7 1L-94.3 -18.8" stroke="#000" stroke-width="1.05" fill="none"/></g>
<g transform="translate(197.4 1388.3) rotate(-90)"><text font-size="24.5" x="-193 -179.6 -166.1 -152.7 -139.2 -123.4 -109.9 -94.2 -80.7 -67.2 -60.4 -46.9 -33.6 -27 -13.5" y="0" xml:space="preserve">2026 3 24 23:00</text>
<path d="M-139 1L-123.6 -18.8M-109.7 1L-94.3 -18.8" stroke="#000" stroke-width="1.05" fill="none"/></g>
<g transform="translate(221 1388.3) rotate(-90)"><text font-size="24.5" x="-179.6 -166.1 -152.7 -139.2 -125.7 -110 -96.5 -80.7 -67.3 -53.8 -46.9 -33.6 -27 -13.5" y="0" xml:space="preserve">2026 3 25 5:00</text>
<path d="M-125.5 1L-110.1 -18.8M-96.3 1L-80.9 -18.8" stroke="#000" stroke-width="1.05" fill="none"/></g>
<g transform="translate(244.7 1388.3) rotate(-90)"><text font-size="24.5" x="-193 -179.6 -166.1 -152.7 -139.2 -123.4 -109.9 -94.2 -80.7 -67.2 -60.4 -46.9 -33.6 -27 -13.5" y="0" xml:space="preserve">2026 3 25 11:00</text>
<path d="M-139 1L-123.6 -18.8M-109.7 1L-94.3 -18.8" stroke="#000" stroke-width="1.05" fill="none"/></g>
<g transform="translate(268.4 1388.3) rotate(-90)"><text font-size="24.5" x="-193 -179.6 -166.1 -152.7 -139.2 -123.4 -109.9 -94.2 -80.7 -67.2 -60.4 -46.9 -33.6 -27 -13.5" y="0" xml:space="preserve">2026 3 25 17:00</text>
<path d="M-139 1L-123.6 -18.8M-109.7 1L-94.3 -18.8" stroke="#000" stroke-width="1.05" fill="none"/></g>
<g transform="translate(292.1 1388.3) rotate(-90)"><text font-size="24.5" x="-193 -179.6 -166.1 -152.7 -139.2 -123.4 -109.9 -94.2 -80.7 -67.2 -60.4 -46.9 -33.6 -27 -13.5" y="0" xml:space="preserve">2026 3 25 23:00</text>
<path d="M-139 1L-123.6 -18.8M-109.7 1L-94.3 -18.8" stroke="#000" stroke-width="1.05" fill="none"/></g>
<g transform="translate(315.8 1388.3) rotate(-90)"><text font-size="24.5" x="-179.6 -166.1 -152.7 -139.2 -125.7 -110 -96.5 -80.7 -67.3 -53.8 -46.9 -33.6 -27 -13.5" y="0" xml:space="preserve">2026 3 26 5:00</text>
<path d="M-125.5 1L-110.1 -18.8M-96.3 1L-80.9 -18.8" stroke="#000" stroke-width="1.05" fill="none"/></g>
<g transform="translate(339.5 1388.3) rotate(-90)"><text font-size="24.5" x="-193 -179.6 -166.1 -152.7 -139.2 -123.4 -109.9 -94.2 -80.7 -67.2 -60.4 -46.9 -33.6 -27 -13.5" y="0" xml:space="preserve">2026 3 26 11:00</text>
<path d="M-139 1L-123.6 -18.8M-109.7 1L-94.3 -18.8" stroke="#000" stroke-width="1.05" fill="none"/></g>
<g transform="translate(363.2 1388.3) rotate(-90)"><text font-size="24.5" x="-193 -179.6 -166.1 -152.7 -139.2 -123.4 -109.9 -94.2 -80.7 -67.2 -60.4 -46.9 -33.6 -27 -13.5" y="0" xml:space="preserve">2026 3 26 17:00</text>
<path d="M-139 1L-123.6 -18.8M-109.7 1L-94.3 -18.8" stroke="#000" stroke-width="1.05" fill="none"/></g>
<g transform="translate(386.9 1388.3) rotate(-90)"><text font-size="24.5" x="-193 -179.6 -166.1 -152.7 -139.2 -123.4 -109.9 -94.2 -80.7 -67.2 -60.4 -46.9 -33.6 -27 -13.5" y="0" xml:space="preserve">2026 3 26 23:00</text>
<path d="M-139 1L-123.6 -18.8M-109.7 1L-94.3 -18.8" stroke="#000" stroke-width="1.05" fill="none"/></g>
<g transform="translate(410.6 1388.3) rotate(-90)"><text font-size="24.5" x="-179.6 -166.1 -152.7 -139.2 -125.7 -110 -96.5 -80.7 -67.3 -53.8 -46.9 -33.6 -27 -13.5" y="0" xml:space="preserve">2026 3 27 5:00</text>
<path d="M-125.5 1L-110.1 -18.8M-96.3 1L-80.9 -18.8" stroke="#000" stroke-width="1.05" fill="none"/></g>
<g transform="translate(434.3 1388.3) rotate(-90)"><text font-size="24.5" x="-193 -179.6 -166.1 -152.7 -139.2 -123.4 -109.9 -94.2 -80.7 -67.2 -60.4 -46.9 -33.6 -27 -13.5" y="0" xml:space="preserve">2026 3 27 11:00</text>
<path d="M-139 1L-123.6 -18.8M-109.7 1L-94.3 -18.8" stroke="#000" stroke-width="1.05" fill="none"/></g>
<g transform="translate(458 1388.3) rotate(-90)"><text font-size="24.5" x="-193 -179.6 -166.1 -152.7 -139.2 -123.4 -109.9 -94.2 -80.7 -67.2 -60.4 -46.9 -33.6 -27 -13.5" y="0" xml:space="preserve">2026 3 27 17:00</text>
<path d="M-139 1L-123.6 -18.8M-109.7 1L-94.3 -18.8" stroke="#000" stroke-width="1.05" fill="none"/></g>
<g transform="translate(481.6 1388.3) rotate(-90)"><text font-size="24.5" x="-193 -179.6 -166.1 -152.7 -139.2 -123.4 -109.9 -94.2 -80.7 -67.2 -60.4 -46.9 -33.6 -27 -13.5" y="0" xml:space="preserve">2026 3 27 23:00</text>
<path d="M-139 1L-123.6 -18.8M-109.7 1L-94.3 -18.8" stroke="#000" stroke-width="1.05" fill="none"/></g>
<g transform="translate(505.3 1388.3) rotate(-90)"><text font-size="24.5" x="-179.6 -166.1 -152.7 -139.2 -125.7 -110 -96.5 -80.7 -67.3 -53.8 -46.9 -33.6 -27 -13.5" y="0" xml:space="preserve">2026 3 30 5:00</text>
<path d="M-125.5 1L-110.1 -18.8M-96.3 1L-80.9 -18.8" stroke="#000" stroke-width="1.05" fill="none"/></g>
<g transform="translate(529 1388.3) rotate(-90)"><text font-size="24.5" x="-193 -179.6 -166.1 -152.7 -139.2 -123.4 -109.9 -94.2 -80.7 -67.2 -60.4 -46.9 -33.6 -27 -13.5" y="0" xml:space="preserve">2026 3 30 11:00</text>
<path d="M-139 1L-123.6 -18.8M-109.7 1L-94.3 -18.8" stroke="#000" stroke-width="1.05" fill="none"/></g>
<g transform="translate(552.7 1388.3) rotate(-90)"><text font-size="24.5" x="-193 -179.6 -166.1 -152.7 -139.2 -123.4 -109.9 -94.2 -80.7 -67.2 -60.4 -46.9 -33.6 -27 -13.5" y="0" xml:space="preserve">2026 3 30 17:00</text>
<path d="M-139 1L-123.6 -18.8M-109.7 1L-94.3 -18.8" stroke="#000" stroke-width="1.05" fill="none"/></g>
<g transform="translate(576.4 1388.3) rotate(-90)"><text font-size="24.5" x="-193 -179.6 -166.1 -152.7 -139.2 -123.4 -109.9 -94.2 -80.7 -67.2 -60.4 -46.9 -33.6 -27 -13.5" y="0" xml:space="preserve">2026 3 30 23:00</text>
<path d="M-139 1L-123.6 -18.8M-109.7 1L-94.3 -18.8" stroke="#000" stroke-width="1.05" fill="none"/></g>
<g transform="translate(600.1 1388.3) rotate(-90)"><text font-size="24.5" x="-179.6 -166.1 -152.7 -139.2 -125.7 -110 -96.5 -80.7 -67.3 -53.8 -46.9 -33.6 -27 -13.5" y="0" xml:space="preserve">2026 3 31 5:00</text>
<path d="M-125.5 1L-110.1 -18.8M-96.3 1L-80.9 -18.8" stroke="#000" stroke-width="1.05" fill="none"/></g>
<g transform="translate(623.8 1388.3) rotate(-90)"><text font-size="24.5" x="-193 -179.6 -166.1 -152.7 -139.2 -123.4 -109.9 -94.2 -80.7 -67.2 -60.4 -46.9 -33.6 -27 -13.5" y="0" xml:space="preserve">2026 3 31 11:00</text>
<path d="M-139 1L-123.6 -18.8M-109.7 1L-94.3 -18.8" stroke="#000" stroke-width="1.05" fill="none"/></g>
<g transform="translate(647.5 1388.3) rotate(-90)"><text font-size="24.5" x="-193 -179.6 -166.1 -152.7 -139.2 -123.4 -109.9 -94.2 -80.7 -67.2 -60.4 -46.9 -33.6 -27 -13.5" y="0" xml:space="preserve">2026 3 31 17:00</text>
<path d="M-139 1L-123.6 -18.8M-109.7 1L-94.3 -18.8" stroke="#000" stroke-width="1.05" fill="none"/></g>
<g transform="translate(671.2 1388.3) rotate(-90)"><text font-size="24.5" x="-193 -179.6 -166.1 -152.7 -139.2 -123.4 -109.9 -94.2 -80.7 -67.2 -60.4 -46.9 -33.6 -27 -13.5" y="0" xml:space="preserve">2026 3 31 23:00</text>
<path d="M-139 1L-123.6 -18.8M-109.7 1L-94.3 -18.8" stroke="#000" stroke-width="1.05" fill="none"/></g>
<g transform="translate(694.9 1388.3) rotate(-90)"><text font-size="24.5" x="-166.1 -152.7 -139.2 -125.8 -112.2 -96.5 -83 -67.3 -53.8 -46.9 -33.6 -27 -13.5" y="0" xml:space="preserve">2026 4 1 5:00</text>
<path d="M-112 1L-96.7 -18.8M-82.8 1L-67.4 -18.8" stroke="#000" stroke-width="1.05" fill="none"/></g>
<g transform="translate(718.6 1388.3) rotate(-90)"><text font-size="24.5" x="-179.6 -166.1 -152.7 -139.2 -125.7 -110 -96.5 -80.7 -67.2 -60.4 -46.9 -33.6 -27 -13.5" y="0" xml:space="preserve">2026 4 1 11:00</text>
<path d="M-125.5 1L-110.1 -18.8M-96.3 1L-80.9 -18.8" stroke="#000" stroke-width="1.05" fill="none"/></g>
<g transform="translate(742.2 1388.3) rotate(-90)"><text font-size="24.5" x="-179.6 -166.1 -152.7 -139.2 -125.7 -110 -96.5 -80.7 -67.2 -60.4 -46.9 -33.6 -27 -13.5" y="0" xml:space="preserve">2026 4 1 17:00</text>
<path d="M-125.5 1L-110.1 -18.8M-96.3 1L-80.9 -18.8" stroke="#000" stroke-width="1.05" fill="none"/></g>
<g transform="translate(765.9 1388.3) rotate(-90)"><text font-size="24.5" x="-179.6 -166.1 -152.7 -139.2 -125.7 -110 -96.5 -80.7 -67.2 -60.4 -46.9 -33.6 -27 -13.5" y="0" xml:space="preserve">2026 4 1 23:00</text>
<path d="M-125.5 1L-110.1 -18.8M-96.3 1L-80.9 -18.8" stroke="#000" stroke-width="1.05" fill="none"/></g>
<g transform="translate(789.6 1388.3) rotate(-90)"><text font-size="24.5" x="-166.1 -152.7 -139.2 -125.8 -112.2 -96.5 -83 -67.3 -53.8 -46.9 -33.6 -27 -13.5" y="0" xml:space="preserve">2026 4 2 5:00</text>
<path d="M-112 1L-96.7 -18.8M-82.8 1L-67.4 -18.8" stroke="#000" stroke-width="1.05" fill="none"/></g>
<g transform="translate(813.3 1388.3) rotate(-90)"><text font-size="24.5" x="-179.6 -166.1 -152.7 -139.2 -125.7 -110 -96.5 -80.7 -67.2 -60.4 -46.9 -33.6 -27 -13.5" y="0" xml:space="preserve">2026 4 2 11:00</text>
<path d="M-125.5 1L-110.1 -18.8M-96.3 1L-80.9 -18.8" stroke="#000" stroke-width="1.05" fill="none"/></g>
<g transform="translate(837 1388.3) rotate(-90)"><text font-size="24.5" x="-179.6 -166.1 -152.7 -139.2 -125.7 -110 -96.5 -80.7 -67.2 -60.4 -46.9 -33.6 -27 -13.5" y="0" xml:space="preserve">2026 4 2 17:00</text>
<path d="M-125.5 1L-110.1 -18.8M-96.3 1L-80.9 -18.8" stroke="#000" stroke-width="1.05" fill="none"/></g>
<g transform="translate(860.7 1388.3) rotate(-90)"><text font-size="24.5" x="-179.6 -166.1 -152.7 -139.2 -125.7 -110 -96.5 -80.7 -67.2 -60.4 -46.9 -33.6 -27 -13.5" y="0" xml:space="preserve">2026 4 2 23:00</text>
<path d="M-125.5 1L-110.1 -18.8M-96.3 1L-80.9 -18.8" stroke="#000" stroke-width="1.05" fill="none"/></g>
<g transform="translate(884.4 1388.3) rotate(-90)"><text font-size="24.5" x="-166.1 -152.7 -139.2 -125.8 -112.2 -96.5 -83 -67.3 -53.8 -46.9 -33.6 -27 -13.5" y="0" xml:space="preserve">2026 4 3 5:00</text>
<path d="M-112 1L-96.7 -18.8M-82.8 1L-67.4 -18.8" stroke="#000" stroke-width="1.05" fill="none"/></g>
<g transform="translate(908.1 1388.3) rotate(-90)"><text font-size="24.5" x="-179.6 -166.1 -152.7 -139.2 -125.7 -110 -96.5 -80.7 -67.2 -60.4 -46.9 -33.6 -27 -13.5" y="0" xml:space="preserve">2026 4 3 11:00</text>
<path d="M-125.5 1L-110.1 -18.8M-96.3 1L-80.9 -18.8" stroke="#000" stroke-width="1.05" fill="none"/></g>
<g transform="translate(931.8 1388.3) rotate(-90)"><text font-size="24.5" x="-179.6 -166.1 -152.7 -139.2 -125.7 -110 -96.5 -80.7 -67.2 -60.4 -46.9 -33.6 -27 -13.5" y="0" xml:space="preserve">2026 4 3 17:00</text>
<path d="M-125.5 1L-110.1 -18.8M-96.3 1L-80.9 -18.8" stroke="#000" stroke-width="1.05" fill="none"/></g>
<g transform="translate(955.5 1388.3) rotate(-90)"><text font-size="24.5" x="-179.6 -166.1 -152.7 -139.2 -125.7 -110 -96.5 -80.7 -67.2 -60.4 -46.9 -33.6 -27 -13.5" y="0" xml:space="preserve">2026 4 3 23:00</text>
<path d="M-125.5 1L-110.1 -18.8M-96.3 1L-80.9 -18.8" stroke="#000" stroke-width="1.05" fill="none"/></g>
<g transform="translate(979.2 1388.3) rotate(-90)"><text font-size="24.5" x="-166.1 -152.7 -139.2 -125.8 -112.2 -96.5 -83 -67.3 -53.8 -46.9 -33.6 -27 -13.5" y="0" xml:space="preserve">2026 4 6 5:00</text>
<path d="M-112 1L-96.7 -18.8M-82.8 1L-67.4 -18.8" stroke="#000" stroke-width="1.05" fill="none"/></g>
<g transform="translate(1002.8 1388.3) rotate(-90)"><text font-size="24.5" x="-179.6 -166.1 -152.7 -139.2 -125.7 -110 -96.5 -80.7 -67.2 -60.4 -46.9 -33.6 -27 -13.5" y="0" xml:space="preserve">2026 4 6 11:00</text>
<path d="M-125.5 1L-110.1 -18.8M-96.3 1L-80.9 -18.8" stroke="#000" stroke-width="1.05" fill="none"/></g>
<g transform="translate(1026.5 1388.3) rotate(-90)"><text font-size="24.5" x="-179.6 -166.1 -152.7 -139.2 -125.7 -110 -96.5 -80.7 -67.2 -60.4 -46.9 -33.6 -27 -13.5" y="0" xml:space="preserve">2026 4 6 17:00</text>
<path d="M-125.5 1L-110.1 -18.8M-96.3 1L-80.9 -18.8" stroke="#000" stroke-width="1.05" fill="none"/></g>
<g transform="translate(1050.2 1388.3) rotate(-90)"><text font-size="24.5" x="-179.6 -166.1 -152.7 -139.2 -125.7 -110 -96.5 -80.7 -67.2 -60.4 -46.9 -33.6 -27 -13.5" y="0" xml:space="preserve">2026 4 6 23:00</text>
<path d="M-125.5 1L-110.1 -18.8M-96.3 1L-80.9 -18.8" stroke="#000" stroke-width="1.05" fill="none"/></g>
<g transform="translate(1073.9 1388.3) rotate(-90)"><text font-size="24.5" x="-166.1 -152.7 -139.2 -125.8 -112.2 -96.5 -83 -67.3 -53.8 -46.9 -33.6 -27 -13.5" y="0" xml:space="preserve">2026 4 7 5:00</text>
<path d="M-112 1L-96.7 -18.8M-82.8 1L-67.4 -18.8" stroke="#000" stroke-width="1.05" fill="none"/></g>
<g transform="translate(1097.6 1388.3) rotate(-90)"><text font-size="24.5" x="-179.6 -166.1 -152.7 -139.2 -125.7 -110 -96.5 -80.7 -67.2 -60.4 -46.9 -33.6 -27 -13.5" y="0" xml:space="preserve">2026 4 7 11:00</text>
<path d="M-125.5 1L-110.1 -18.8M-96.3 1L-80.9 -18.8" stroke="#000" stroke-width="1.05" fill="none"/></g>
<g transform="translate(1121.3 1388.3) rotate(-90)"><text font-size="24.5" x="-179.6 -166.1 -152.7 -139.2 -125.7 -110 -96.5 -80.7 -67.2 -60.4 -46.9 -33.6 -27 -13.5" y="0" xml:space="preserve">2026 4 7 17:00</text>
<path d="M-125.5 1L-110.1 -18.8M-96.3 1L-80.9 -18.8" stroke="#000" stroke-width="1.05" fill="none"/></g>
<g transform="translate(1145 1388.3) rotate(-90)"><text font-size="24.5" x="-179.6 -166.1 -152.7 -139.2 -125.7 -110 -96.5 -80.7 -67.2 -60.4 -46.9 -33.6 -27 -13.5" y="0" xml:space="preserve">2026 4 7 23:00</text>
<path d="M-125.5 1L-110.1 -18.8M-96.3 1L-80.9 -18.8" stroke="#000" stroke-width="1.05" fill="none"/></g>
<g transform="translate(1168.7 1388.3) rotate(-90)"><text font-size="24.5" x="-166.1 -152.7 -139.2 -125.8 -112.2 -96.5 -83 -67.3 -53.8 -46.9 -33.6 -27 -13.5" y="0" xml:space="preserve">2026 4 8 5:00</text>
<path d="M-112 1L-96.7 -18.8M-82.8 1L-67.4 -18.8" stroke="#000" stroke-width="1.05" fill="none"/></g>
<g transform="translate(1192.4 1388.3) rotate(-90)"><text font-size="24.5" x="-179.6 -166.1 -152.7 -139.2 -125.7 -110 -96.5 -80.7 -67.2 -60.4 -46.9 -33.6 -27 -13.5" y="0" xml:space="preserve">2026 4 8 11:00</text>
<path d="M-125.5 1L-110.1 -18.8M-96.3 1L-80.9 -18.8" stroke="#000" stroke-width="1.05" fill="none"/></g>
<g transform="translate(1216.1 1388.3) rotate(-90)"><text font-size="24.5" x="-179.6 -166.1 -152.7 -139.2 -125.7 -110 -96.5 -80.7 -67.2 -60.4 -46.9 -33.6 -27 -13.5" y="0" xml:space="preserve">2026 4 8 17:00</text>
<path d="M-125.5 1L-110.1 -18.8M-96.3 1L-80.9 -18.8" stroke="#000" stroke-width="1.05" fill="none"/></g>
<g transform="translate(1239.8 1388.3) rotate(-90)"><text font-size="24.5" x="-179.6 -166.1 -152.7 -139.2 -125.7 -110 -96.5 -80.7 -67.2 -60.4 -46.9 -33.6 -27 -13.5" y="0" xml:space="preserve">2026 4 8 23:00</text>
<path d="M-125.5 1L-110.1 -18.8M-96.3 1L-80.9 -18.8" stroke="#000" stroke-width="1.05" fill="none"/></g>
<g transform="translate(1263.4 1388.3) rotate(-90)"><text font-size="24.5" x="-166.1 -152.7 -139.2 -125.8 -112.2 -96.5 -83 -67.3 -53.8 -46.9 -33.6 -27 -13.5" y="0" xml:space="preserve">2026 4 9 5:00</text>
<path d="M-112 1L-96.7 -18.8M-82.8 1L-67.4 -18.8" stroke="#000" stroke-width="1.05" fill="none"/></g>
<g transform="translate(1287.1 1388.3) rotate(-90)"><text font-size="24.5" x="-179.6 -166.1 -152.7 -139.2 -125.7 -110 -96.5 -80.7 -67.2 -60.4 -46.9 -33.6 -27 -13.5" y="0" xml:space="preserve">2026 4 9 11:00</text>
<path d="M-125.5 1L-110.1 -18.8M-96.3 1L-80.9 -18.8" stroke="#000" stroke-width="1.05" fill="none"/></g>
<g transform="translate(1310.8 1388.3) rotate(-90)"><text font-size="24.5" x="-179.6 -166.1 -152.7 -139.2 -125.7 -110 -96.5 -80.7 -67.2 -60.4 -46.9 -33.6 -27 -13.5" y="0" xml:space="preserve">2026 4 9 17:00</text>
<path d="M-125.5 1L-110.1 -18.8M-96.3 1L-80.9 -18.8" stroke="#000" stroke-width="1.05" fill="none"/></g>
<g transform="translate(1334.5 1388.3) rotate(-90)"><text font-size="24.5" x="-179.6 -166.1 -152.7 -139.2 -125.7 -110 -96.5 -80.7 -67.2 -60.4 -46.9 -33.6 -27 -13.5" y="0" xml:space="preserve">2026 4 9 23:00</text>
<path d="M-125.5 1L-110.1 -18.8M-96.3 1L-80.9 -18.8" stroke="#000" stroke-width="1.05" fill="none"/></g>
<g transform="translate(1358.2 1388.3) rotate(-90)"><text font-size="24.5" x="-179.6 -166.1 -152.7 -139.2 -125.7 -110 -96.5 -80.7 -67.3 -53.8 -46.9 -33.6 -27 -13.5" y="0" xml:space="preserve">2026 4 10 5:00</text>
<path d="M-125.5 1L-110.1 -18.8M-96.3 1L-80.9 -18.8" stroke="#000" stroke-width="1.05" fill="none"/></g>
<g transform="translate(1381.9 1388.3) rotate(-90)"><text font-size="24.5" x="-193 -179.6 -166.1 -152.7 -139.2 -123.4 -109.9 -94.2 -80.7 -67.2 -60.4 -46.9 -33.6 -27 -13.5" y="0" xml:space="preserve">2026 4 10 11:00</text>
<path d="M-139 1L-123.6 -18.8M-109.7 1L-94.3 -18.8" stroke="#000" stroke-width="1.05" fill="none"/></g>
<g transform="translate(1405.6 1388.3) rotate(-90)"><text font-size="24.5" x="-193 -179.6 -166.1 -152.7 -139.2 -123.4 -109.9 -94.2 -80.7 -67.2 -60.4 -46.9 -33.6 -27 -13.5" y="0" xml:space="preserve">2026 4 10 17:00</text>
<path d="M-139 1L-123.6 -18.8M-109.7 1L-94.3 -18.8" stroke="#000" stroke-width="1.05" fill="none"/></g>
<g transform="translate(1429.3 1388.3) rotate(-90)"><text font-size="24.5" x="-193 -179.6 -166.1 -152.7 -139.2 -123.4 -109.9 -94.2 -80.7 -67.2 -60.4 -46.9 -33.6 -27 -13.5" y="0" xml:space="preserve">2026 4 10 23:00</text>
<path d="M-139 1L-123.6 -18.8M-109.7 1L-94.3 -18.8" stroke="#000" stroke-width="1.05" fill="none"/></g>
<g transform="translate(1453 1388.3) rotate(-90)"><text font-size="24.5" x="-179.6 -166.1 -152.7 -139.2 -125.7 -110 -96.5 -80.7 -67.3 -53.8 -46.9 -33.6 -27 -13.5" y="0" xml:space="preserve">2026 4 13 5:00</text>
<path d="M-125.5 1L-110.1 -18.8M-96.3 1L-80.9 -18.8" stroke="#000" stroke-width="1.05" fill="none"/></g>
<g transform="translate(1476.7 1388.3) rotate(-90)"><text font-size="24.5" x="-193 -179.6 -166.1 -152.7 -139.2 -123.4 -109.9 -94.2 -80.7 -67.2 -60.4 -46.9 -33.6 -27 -13.5" y="0" xml:space="preserve">2026 4 13 11:00</text>
<path d="M-139 1L-123.6 -18.8M-109.7 1L-94.3 -18.8" stroke="#000" stroke-width="1.05" fill="none"/></g>
<g transform="translate(1500.4 1388.3) rotate(-90)"><text font-size="24.5" x="-193 -179.6 -166.1 -152.7 -139.2 -123.4 -109.9 -94.2 -80.7 -67.2 -60.4 -46.9 -33.6 -27 -13.5" y="0" xml:space="preserve">2026 4 13 17:00</text>
<path d="M-139 1L-123.6 -18.8M-109.7 1L-94.3 -18.8" stroke="#000" stroke-width="1.05" fill="none"/></g>
<g transform="translate(1524 1388.3) rotate(-90)"><text font-size="24.5" x="-193 -179.6 -166.1 -152.7 -139.2 -123.4 -109.9 -94.2 -80.7 -67.2 -60.4 -46.9 -33.6 -27 -13.5" y="0" xml:space="preserve">2026 4 13 23:00</text>
<path d="M-139 1L-123.6 -18.8M-109.7 1L-94.3 -18.8" stroke="#000" stroke-width="1.05" fill="none"/></g>
<g transform="translate(1547.7 1388.3) rotate(-90)"><text font-size="24.5" x="-179.6 -166.1 -152.7 -139.2 -125.7 -110 -96.5 -80.7 -67.3 -53.8 -46.9 -33.6 -27 -13.5" y="0" xml:space="preserve">2026 4 14 5:00</text>
<path d="M-125.5 1L-110.1 -18.8M-96.3 1L-80.9 -18.8" stroke="#000" stroke-width="1.05" fill="none"/></g>
<g transform="translate(1571.4 1388.3) rotate(-90)"><text font-size="24.5" x="-193 -179.6 -166.1 -152.7 -139.2 -123.4 -109.9 -94.2 -80.7 -67.2 -60.4 -46.9 -33.6 -27 -13.5" y="0" xml:space="preserve">2026 4 14 11:00</text>
<path d="M-139 1L-123.6 -18.8M-109.7 1L-94.3 -18.8" stroke="#000" stroke-width="1.05" fill="none"/></g>
<g transform="translate(1595.1 1388.3) rotate(-90)"><text font-size="24.5" x="-193 -179.6 -166.1 -152.7 -139.2 -123.4 -109.9 -94.2 -80.7 -67.2 -60.4 -46.9 -33.6 -27 -13.5" y="0" xml:space="preserve">2026 4 14 17:00</text>
<path d="M-139 1L-123.6 -18.8M-109.7 1L-94.3 -18.8" stroke="#000" stroke-width="1.05" fill="none"/></g>
<g transform="translate(1618.8 1388.3) rotate(-90)"><text font-size="24.5" x="-193 -179.6 -166.1 -152.7 -139.2 -123.4 -109.9 -94.2 -80.7 -67.2 -60.4 -46.9 -33.6 -27 -13.5" y="0" xml:space="preserve">2026 4 14 23:00</text>
<path d="M-139 1L-123.6 -18.8M-109.7 1L-94.3 -18.8" stroke="#000" stroke-width="1.05" fill="none"/></g>
<g transform="translate(1642.5 1388.3) rotate(-90)"><text font-size="24.5" x="-179.6 -166.1 -152.7 -139.2 -125.7 -110 -96.5 -80.7 -67.3 -53.8 -46.9 -33.6 -27 -13.5" y="0" xml:space="preserve">2026 4 15 5:00</text>
<path d="M-125.5 1L-110.1 -18.8M-96.3 1L-80.9 -18.8" stroke="#000" stroke-width="1.05" fill="none"/></g>
<g transform="translate(1666.2 1388.3) rotate(-90)"><text font-size="24.5" x="-193 -179.6 -166.1 -152.7 -139.2 -123.4 -109.9 -94.2 -80.7 -67.2 -60.4 -46.9 -33.6 -27 -13.5" y="0" xml:space="preserve">2026 4 15 11:00</text>
<path d="M-139 1L-123.6 -18.8M-109.7 1L-94.3 -18.8" stroke="#000" stroke-width="1.05" fill="none"/></g>
<g transform="translate(1689.9 1388.3) rotate(-90)"><text font-size="24.5" x="-193 -179.6 -166.1 -152.7 -139.2 -123.4 -109.9 -94.2 -80.7 -67.2 -60.4 -46.9 -33.6 -27 -13.5" y="0" xml:space="preserve">2026 4 15 17:00</text>
<path d="M-139 1L-123.6 -18.8M-109.7 1L-94.3 -18.8" stroke="#000" stroke-width="1.05" fill="none"/></g>
<g transform="translate(1713.6 1388.3) rotate(-90)"><text font-size="24.5" x="-193 -179.6 -166.1 -152.7 -139.2 -123.4 -109.9 -94.2 -80.7 -67.2 -60.4 -46.9 -33.6 -27 -13.5" y="0" xml:space="preserve">2026 4 15 23:00</text>
<path d="M-139 1L-123.6 -18.8M-109.7 1L-94.3 -18.8" stroke="#000" stroke-width="1.05" fill="none"/></g>
<g transform="translate(1737.3 1388.3) rotate(-90)"><text font-size="24.5" x="-179.6 -166.1 -152.7 -139.2 -125.7 -110 -96.5 -80.7 -67.3 -53.8 -46.9 -33.6 -27 -13.5" y="0" xml:space="preserve">2026 4 16 5:00</text>
<path d="M-125.5 1L-110.1 -18.8M-96.3 1L-80.9 -18.8" stroke="#000" stroke-width="1.05" fill="none"/></g>
<g transform="translate(1761 1388.3) rotate(-90)"><text font-size="24.5" x="-193 -179.6 -166.1 -152.7 -139.2 -123.4 -109.9 -94.2 -80.7 -67.2 -60.4 -46.9 -33.6 -27 -13.5" y="0" xml:space="preserve">2026 4 16 11:00</text>
<path d="M-139 1L-123.6 -18.8M-109.7 1L-94.3 -18.8" stroke="#000" stroke-width="1.05" fill="none"/></g>
<g transform="translate(1784.7 1388.3) rotate(-90)"><text font-size="24.5" x="-193 -179.6 -166.1 -152.7 -139.2 -123.4 -109.9 -94.2 -80.7 -67.2 -60.4 -46.9 -33.6 -27 -13.5" y="0" xml:space="preserve">2026 4 16 17:00</text>
<path d="M-139 1L-123.6 -18.8M-109.7 1L-94.3 -18.8" stroke="#000" stroke-width="1.05" fill="none"/></g>
<g transform="translate(1808.3 1388.3) rotate(-90)"><text font-size="24.5" x="-193 -179.6 -166.1 -152.7 -139.2 -123.4 -109.9 -94.2 -80.7 -67.2 -60.4 -46.9 -33.6 -27 -13.5" y="0" xml:space="preserve">2026 4 16 23:00</text>
<path d="M-139 1L-123.6 -18.8M-109.7 1L-94.3 -18.8" stroke="#000" stroke-width="1.05" fill="none"/></g>
<g transform="translate(1832 1388.3) rotate(-90)"><text font-size="24.5" x="-179.6 -166.1 -152.7 -139.2 -125.7 -110 -96.5 -80.7 -67.3 -53.8 -46.9 -33.6 -27 -13.5" y="0" xml:space="preserve">2026 4 17 5:00</text>
<path d="M-125.5 1L-110.1 -18.8M-96.3 1L-80.9 -18.8" stroke="#000" stroke-width="1.05" fill="none"/></g>
<g transform="translate(1855.7 1388.3) rotate(-90)"><text font-size="24.5" x="-193 -179.6 -166.1 -152.7 -139.2 -123.4 -109.9 -94.2 -80.7 -67.2 -60.4 -46.9 -33.6 -27 -13.5" y="0" xml:space="preserve">2026 4 17 11:00</text>
<path d="M-139 1L-123.6 -18.8M-109.7 1L-94.3 -18.8" stroke="#000" stroke-width="1.05" fill="none"/></g>
<g transform="translate(1879.4 1388.3) rotate(-90)"><text font-size="24.5" x="-193 -179.6 -166.1 -152.7 -139.2 -123.4 -109.9 -94.2 -80.7 -67.2 -60.4 -46.9 -33.6 -27 -13.5" y="0" xml:space="preserve">2026 4 17 17:00</text>
<path d="M-139 1L-123.6 -18.8M-109.7 1L-94.3 -18.8" stroke="#000" stroke-width="1.05" fill="none"/></g>
<g transform="translate(1903.1 1388.3) rotate(-90)"><text font-size="24.5" x="-193 -179.6 -166.1 -152.7 -139.2 -123.4 -109.9 -94.2 -80.7 -67.2 -60.4 -46.9 -33.6 -27 -13.5" y="0" xml:space="preserve">2026 4 17 23:00</text>
<path d="M-139 1L-123.6 -18.8M-109.7 1L-94.3 -18.8" stroke="#000" stroke-width="1.05" fill="none"/></g>
<g transform="translate(1926.8 1388.3) rotate(-90)"><text font-size="24.5" x="-179.6 -166.1 -152.7 -139.2 -125.7 -110 -96.5 -80.7 -67.3 -53.8 -46.9 -33.6 -27 -13.5" y="0" xml:space="preserve">2026 4 20 5:00</text>
<path d="M-125.5 1L-110.1 -18.8M-96.3 1L-80.9 -18.8" stroke="#000" stroke-width="1.05" fill="none"/></g>
<g transform="translate(1950.5 1388.3) rotate(-90)"><text font-size="24.5" x="-193 -179.6 -166.1 -152.7 -139.2 -123.4 -109.9 -94.2 -80.7 -67.2 -60.4 -46.9 -33.6 -27 -13.5" y="0" xml:space="preserve">2026 4 20 11:00</text>
<path d="M-139 1L-123.6 -18.8M-109.7 1L-94.3 -18.8" stroke="#000" stroke-width="1.05" fill="none"/></g>
<g transform="translate(1974.2 1388.3) rotate(-90)"><text font-size="24.5" x="-193 -179.6 -166.1 -152.7 -139.2 -123.4 -109.9 -94.2 -80.7 -67.2 -60.4 -46.9 -33.6 -27 -13.5" y="0" xml:space="preserve">2026 4 20 17:00</text>
<path d="M-139 1L-123.6 -18.8M-109.7 1L-94.3 -18.8" stroke="#000" stroke-width="1.05" fill="none"/></g>
<g transform="translate(1997.9 1388.3) rotate(-90)"><text font-size="24.5" x="-193 -179.6 -166.1 -152.7 -139.2 -123.4 -109.9 -94.2 -80.7 -67.2 -60.4 -46.9 -33.6 -27 -13.5" y="0" xml:space="preserve">2026 4 20 23:00</text>
<path d="M-139 1L-123.6 -18.8M-109.7 1L-94.3 -18.8" stroke="#000" stroke-width="1.05" fill="none"/></g>
<g transform="translate(2021.6 1388.3) rotate(-90)"><text font-size="24.5" x="-179.6 -166.1 -152.7 -139.2 -125.7 -110 -96.5 -80.7 -67.3 -53.8 -46.9 -33.6 -27 -13.5" y="0" xml:space="preserve">2026 4 21 5:00</text>
<path d="M-125.5 1L-110.1 -18.8M-96.3 1L-80.9 -18.8" stroke="#000" stroke-width="1.05" fill="none"/></g>
<g transform="translate(2045.3 1388.3) rotate(-90)"><text font-size="24.5" x="-193 -179.6 -166.1 -152.7 -139.2 -123.4 -109.9 -94.2 -80.7 -67.2 -60.4 -46.9 -33.6 -27 -13.5" y="0" xml:space="preserve">2026 4 21 11:00</text>
<path d="M-139 1L-123.6 -18.8M-109.7 1L-94.3 -18.8" stroke="#000" stroke-width="1.05" fill="none"/></g>
<g transform="translate(2068.9 1388.3) rotate(-90)"><text font-size="24.5" x="-193 -179.6 -166.1 -152.7 -139.2 -123.4 -109.9 -94.2 -80.7 -67.2 -60.4 -46.9 -33.6 -27 -13.5" y="0" xml:space="preserve">2026 4 21 17:00</text>
<path d="M-139 1L-123.6 -18.8M-109.7 1L-94.3 -18.8" stroke="#000" stroke-width="1.05" fill="none"/></g>
<g transform="translate(2092.6 1388.3) rotate(-90)"><text font-size="24.5" x="-193 -179.6 -166.1 -152.7 -139.2 -123.4 -109.9 -94.2 -80.7 -67.2 -60.4 -46.9 -33.6 -27 -13.5" y="0" xml:space="preserve">2026 4 21 23:00</text>
<path d="M-139 1L-123.6 -18.8M-109.7 1L-94.3 -18.8" stroke="#000" stroke-width="1.05" fill="none"/></g>
<g transform="translate(2116.3 1388.3) rotate(-90)"><text font-size="24.5" x="-179.6 -166.1 -152.7 -139.2 -125.7 -110 -96.5 -80.7 -67.3 -53.8 -46.9 -33.6 -27 -13.5" y="0" xml:space="preserve">2026 4 22 5:00</text>
<path d="M-125.5 1L-110.1 -18.8M-96.3 1L-80.9 -18.8" stroke="#000" stroke-width="1.05" fill="none"/></g>
<g transform="translate(2140 1388.3) rotate(-90)"><text font-size="24.5" x="-193 -179.6 -166.1 -152.7 -139.2 -123.4 -109.9 -94.2 -80.7 -67.2 -60.4 -46.9 -33.6 -27 -13.5" y="0" xml:space="preserve">2026 4 22 11:00</text>
<path d="M-139 1L-123.6 -18.8M-109.7 1L-94.3 -18.8" stroke="#000" stroke-width="1.05" fill="none"/></g>
<g transform="translate(2163.7 1388.3) rotate(-90)"><text font-size="24.5" x="-193 -179.6 -166.1 -152.7 -139.2 -123.4 -109.9 -94.2 -80.7 -67.2 -60.4 -46.9 -33.6 -27 -13.5" y="0" xml:space="preserve">2026 4 22 17:00</text>
<path d="M-139 1L-123.6 -18.8M-109.7 1L-94.3 -18.8" stroke="#000" stroke-width="1.05" fill="none"/></g>
<g transform="translate(2187.4 1388.3) rotate(-90)"><text font-size="24.5" x="-193 -179.6 -166.1 -152.7 -139.2 -123.4 -109.9 -94.2 -80.7 -67.2 -60.4 -46.9 -33.6 -27 -13.5" y="0" xml:space="preserve">2026 4 22 23:00</text>
<path d="M-139 1L-123.6 -18.8M-109.7 1L-94.3 -18.8" stroke="#000" stroke-width="1.05" fill="none"/></g>
<g transform="translate(2211.1 1388.3) rotate(-90)"><text font-size="24.5" x="-179.6 -166.1 -152.7 -139.2 -125.7 -110 -96.5 -80.7 -67.3 -53.8 -46.9 -33.6 -27 -13.5" y="0" xml:space="preserve">2026 4 23 5:00</text>
<path d="M-125.5 1L-110.1 -18.8M-96.3 1L-80.9 -18.8" stroke="#000" stroke-width="1.05" fill="none"/></g>
<g transform="translate(2234.8 1388.3) rotate(-90)"><text font-size="24.5" x="-193 -179.6 -166.1 -152.7 -139.2 -123.4 -109.9 -94.2 -80.7 -67.2 -60.4 -46.9 -33.6 -27 -13.5" y="0" xml:space="preserve">2026 4 23 11:00</text>
<path d="M-139 1L-123.6 -18.8M-109.7 1L-94.3 -18.8" stroke="#000" stroke-width="1.05" fill="none"/></g>
<g transform="translate(2258.5 1388.3) rotate(-90)"><text font-size="24.5" x="-193 -179.6 -166.1 -152.7 -139.2 -123.4 -109.9 -94.2 -80.7 -67.2 -60.4 -46.9 -33.6 -27 -13.5" y="0" xml:space="preserve">2026 4 23 17:00</text>
<path d="M-139 1L-123.6 -18.8M-109.7 1L-94.3 -18.8" stroke="#000" stroke-width="1.05" fill="none"/></g>
<g transform="translate(2282.2 1388.3) rotate(-90)"><text font-size="24.5" x="-193 -179.6 -166.1 -152.7 -139.2 -123.4 -109.9 -94.2 -80.7 -67.2 -60.4 -46.9 -33.6 -27 -13.5" y="0" xml:space="preserve">2026 4 23 23:00</text>
<path d="M-139 1L-123.6 -18.8M-109.7 1L-94.3 -18.8" stroke="#000" stroke-width="1.05" fill="none"/></g>
<g transform="translate(2305.9 1388.3) rotate(-90)"><text font-size="24.5" x="-179.6 -166.1 -152.7 -139.2 -125.7 -110 -96.5 -80.7 -67.3 -53.8 -46.9 -33.6 -27 -13.5" y="0" xml:space="preserve">2026 4 24 5:00</text>
<path d="M-125.5 1L-110.1 -18.8M-96.3 1L-80.9 -18.8" stroke="#000" stroke-width="1.05" fill="none"/></g>
<g transform="translate(2329.5 1388.3) rotate(-90)"><text font-size="24.5" x="-193 -179.6 -166.1 -152.7 -139.2 -123.4 -109.9 -94.2 -80.7 -67.2 -60.4 -46.9 -33.6 -27 -13.5" y="0" xml:space="preserve">2026 4 24 11:00</text>
<path d="M-139 1L-123.6 -18.8M-109.7 1L-94.3 -18.8" stroke="#000" stroke-width="1.05" fill="none"/></g>
<g transform="translate(2353.2 1388.3) rotate(-90)"><text font-size="24.5" x="-193 -179.6 -166.1 -152.7 -139.2 -123.4 -109.9 -94.2 -80.7 -67.2 -60.4 -46.9 -33.6 -27 -13.5" y="0" xml:space="preserve">2026 4 24 17:00</text>
<path d="M-139 1L-123.6 -18.8M-109.7 1L-94.3 -18.8" stroke="#000" stroke-width="1.05" fill="none"/></g>
<g transform="translate(2376.9 1388.3) rotate(-90)"><text font-size="24.5" x="-193 -179.6 -166.1 -152.7 -139.2 -123.4 -109.9 -94.2 -80.7 -67.2 -60.4 -46.9 -33.6 -27 -13.5" y="0" xml:space="preserve">2026 4 24 23:00</text>
<path d="M-139 1L-123.6 -18.8M-109.7 1L-94.3 -18.8" stroke="#000" stroke-width="1.05" fill="none"/></g>
</svg></body></html>
